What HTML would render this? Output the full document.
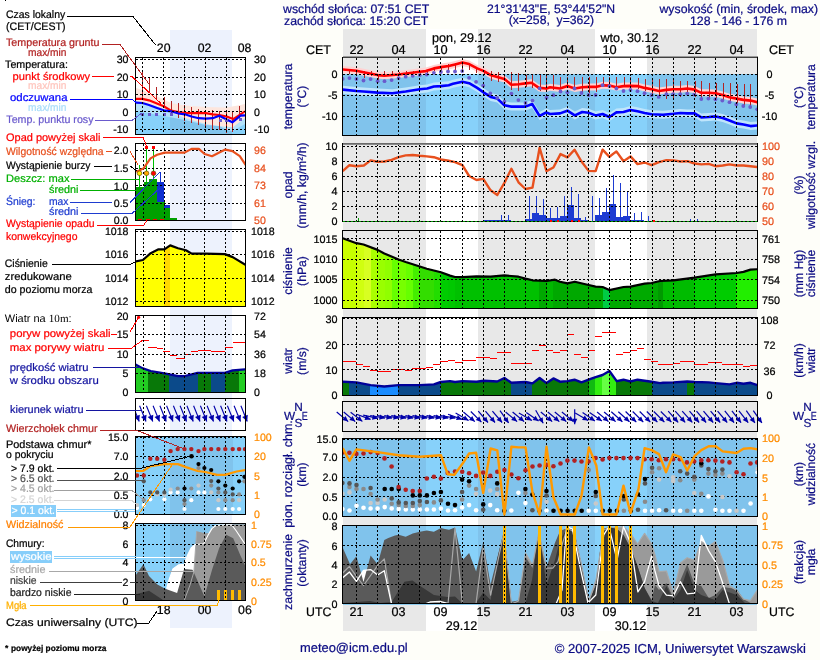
<!DOCTYPE html>
<html><head><meta charset="utf-8"><title>meteogram</title>
<style>html,body{margin:0;padding:0;background:#fefef9;overflow:hidden;}svg{display:block;will-change:transform;}text{font-family:'Liberation Sans', Arial, sans-serif;}</style>
</head><body>
<svg width="820" height="660" viewBox="0 0 820 660" shape-rendering="crispEdges" text-rendering="geometricPrecision">
<rect x="0" y="0" width="820" height="660" fill="#fefef9" />
<rect x="0" y="0" width="280" height="660" fill="#ffffff" />
<rect x="343" y="29" width="414" height="602" fill="#e8e8e8" />
<rect x="426" y="29" width="52" height="602" fill="#ffffff" />
<rect x="595" y="29" width="52" height="602" fill="#ffffff" />
<text x="283" y="12.5" font-size="12.3" fill="#0c0c84" stroke="#0c0c84" stroke-width="0.22" text-anchor="start" >wschód słońca: 07:51 CET</text>
<text x="284" y="25.3" font-size="12.3" fill="#0c0c84" stroke="#0c0c84" stroke-width="0.22" text-anchor="start" >zachód słońca: 15:20 CET</text>
<text x="551" y="12.5" font-size="12.2" fill="#0c0c84" stroke="#0c0c84" stroke-width="0.22" text-anchor="middle" >21°31'43"E, 53°44'52"N</text>
<text x="551.5" y="24.3" font-size="12.2" fill="#0c0c84" stroke="#0c0c84" stroke-width="0.22" text-anchor="middle" >(x=258,&#160; y=362)</text>
<text x="818" y="12.5" font-size="12.3" fill="#0c0c84" stroke="#0c0c84" stroke-width="0.22" text-anchor="end" >wysokość (min, środek, max)</text>
<text x="738.5" y="24.6" font-size="12.3" fill="#0c0c84" stroke="#0c0c84" stroke-width="0.22" text-anchor="middle" >128 - 146 - 176 m</text>
<text x="432" y="41.5" font-size="12.6" fill="#000" stroke="#000" stroke-width="0.22" text-anchor="start" >pon, 29.12</text>
<text x="600.5" y="41.5" font-size="12.6" fill="#000" stroke="#000" stroke-width="0.22" text-anchor="start" >wto, 30.12</text>
<text x="306" y="54.3" font-size="12.5" fill="#000" stroke="#000" stroke-width="0.22" text-anchor="start" >CET</text>
<text x="769" y="54.3" font-size="12.5" fill="#000" stroke="#000" stroke-width="0.22" text-anchor="start" >CET</text>
<text x="356.5" y="54.3" font-size="12.8" fill="#000" stroke="#000" stroke-width="0.22" text-anchor="middle" >22</text>
<text x="398.5" y="54.3" font-size="12.8" fill="#000" stroke="#000" stroke-width="0.22" text-anchor="middle" >04</text>
<text x="440.5" y="54.3" font-size="12.8" fill="#000" stroke="#000" stroke-width="0.22" text-anchor="middle" >10</text>
<text x="483.5" y="54.3" font-size="12.8" fill="#000" stroke="#000" stroke-width="0.22" text-anchor="middle" >16</text>
<text x="525.5" y="54.3" font-size="12.8" fill="#000" stroke="#000" stroke-width="0.22" text-anchor="middle" >22</text>
<text x="567.5" y="54.3" font-size="12.8" fill="#000" stroke="#000" stroke-width="0.22" text-anchor="middle" >04</text>
<text x="609.5" y="54.3" font-size="12.8" fill="#000" stroke="#000" stroke-width="0.22" text-anchor="middle" >10</text>
<text x="652.5" y="54.3" font-size="12.8" fill="#000" stroke="#000" stroke-width="0.22" text-anchor="middle" >16</text>
<text x="694.5" y="54.3" font-size="12.8" fill="#000" stroke="#000" stroke-width="0.22" text-anchor="middle" >22</text>
<text x="736.5" y="54.3" font-size="12.8" fill="#000" stroke="#000" stroke-width="0.22" text-anchor="middle" >04</text>
<text x="306" y="616.3" font-size="12.3" fill="#000" stroke="#000" stroke-width="0.22" text-anchor="start" >UTC</text>
<text x="769" y="616.3" font-size="12.3" fill="#000" stroke="#000" stroke-width="0.22" text-anchor="start" >UTC</text>
<text x="356.5" y="616.3" font-size="12.6" fill="#000" stroke="#000" stroke-width="0.22" text-anchor="middle" >21</text>
<text x="398.5" y="616.3" font-size="12.6" fill="#000" stroke="#000" stroke-width="0.22" text-anchor="middle" >03</text>
<text x="440.5" y="616.3" font-size="12.6" fill="#000" stroke="#000" stroke-width="0.22" text-anchor="middle" >09</text>
<text x="483.5" y="616.3" font-size="12.6" fill="#000" stroke="#000" stroke-width="0.22" text-anchor="middle" >15</text>
<text x="525.5" y="616.3" font-size="12.6" fill="#000" stroke="#000" stroke-width="0.22" text-anchor="middle" >21</text>
<text x="567.5" y="616.3" font-size="12.6" fill="#000" stroke="#000" stroke-width="0.22" text-anchor="middle" >03</text>
<text x="609.5" y="616.3" font-size="12.6" fill="#000" stroke="#000" stroke-width="0.22" text-anchor="middle" >09</text>
<text x="652.5" y="616.3" font-size="12.6" fill="#000" stroke="#000" stroke-width="0.22" text-anchor="middle" >15</text>
<text x="694.5" y="616.3" font-size="12.6" fill="#000" stroke="#000" stroke-width="0.22" text-anchor="middle" >21</text>
<text x="736.5" y="616.3" font-size="12.6" fill="#000" stroke="#000" stroke-width="0.22" text-anchor="middle" >03</text>
<text x="461.5" y="629.8" font-size="12.6" fill="#000" stroke="#000" stroke-width="0.22" text-anchor="middle" >29.12</text>
<text x="630.5" y="629.8" font-size="12.6" fill="#000" stroke="#000" stroke-width="0.22" text-anchor="middle" >30.12</text>
<text x="300" y="651.8" font-size="12.9" fill="#0c0c84" stroke="#0c0c84" stroke-width="0.22" text-anchor="start" >meteo@icm.edu.pl</text>
<text x="806" y="652.9" font-size="13.05" fill="#0c0c84" stroke="#0c0c84" stroke-width="0.22" text-anchor="end" >© 2007-2025 ICM, Uniwersytet Warszawski</text>
<clipPath id="cT"><rect x="343" y="58" width="414" height="77"/></clipPath>
<g clip-path="url(#cT)">
<rect x="343" y="74" width="414" height="61" fill="#80c3ec" />
<rect x="426" y="74" width="52" height="61" fill="#87d1fa" />
<rect x="595" y="74" width="52" height="61" fill="#87d1fa" />
<polygon points="342.7,85.6 356.4,87.0 363.5,87.5 377.6,88.6 392.3,89.2 405.7,87.5 419.8,85.2 427.2,84.5 433.9,82.5 440.9,82.1 448.7,81.2 453.0,79.8 462.4,77.8 469.1,79.2 477.2,83.9 483.9,88.6 490.6,92.9 497.3,94.6 504.4,101.3 511.4,102.6 525.5,102.6 532.2,100.0 539.6,112.0 546.3,108.4 550.0,110.0 560.0,109.4 567.4,106.7 574.8,111.4 582.2,108.0 588.6,108.7 595.6,111.4 602.6,110.0 609.4,113.0 616.4,108.4 623.5,108.0 630.5,106.0 637.5,107.3 644.6,109.0 651.6,110.3 663.0,110.7 673.4,109.8 680.5,109.0 687.2,109.4 694.6,109.4 701.3,113.4 708.7,113.0 715.6,112.4 722.7,114.0 729.5,116.5 736.6,119.4 743.5,120.5 750.5,122.1 757.6,121.4 757.6,129.4 750.5,130.1 743.5,128.5 736.6,127.4 729.5,124.5 722.7,122.0 715.6,120.4 708.7,121.0 701.3,121.4 694.6,117.4 687.2,117.4 680.5,117.0 673.4,117.8 663.0,118.7 651.6,118.3 644.6,117.0 637.5,115.3 630.5,114.0 623.5,116.0 616.4,116.4 609.4,121.0 602.6,118.0 595.6,119.4 588.6,116.7 582.2,116.0 574.8,119.4 567.4,114.7 560.0,117.4 550.0,118.0 546.3,116.4 539.6,120.0 532.2,108.0 525.5,110.6 511.4,110.6 504.4,109.3 497.3,102.6 490.6,100.9 483.9,96.6 477.2,91.9 469.1,87.2 462.4,85.8 453.0,87.8 448.7,89.2 440.9,90.1 433.9,90.5 427.2,92.5 419.8,93.2 405.7,95.5 392.3,97.2 377.6,96.6 363.5,95.5 356.4,95.0 342.7,93.6" fill="#bfe5fc" shape-rendering="auto"/>
<polygon points="342.7,66.0 356.4,67.3 363.5,68.7 377.6,71.6 384.3,72.3 398.6,71.0 419.8,68.3 425.9,67.6 433.9,64.9 440.9,63.6 448.7,62.5 455.0,60.9 462.4,58.9 469.1,60.6 477.2,64.9 483.9,67.6 490.6,71.6 497.3,73.6 504.4,75.6 511.4,81.3 518.8,80.7 525.5,79.9 531.5,79.3 538.9,84.4 546.5,85.0 550.0,83.7 560.0,85.0 567.4,82.6 574.8,85.0 582.2,83.7 588.6,83.4 595.6,83.4 602.6,81.7 609.4,82.1 616.4,83.7 623.5,82.6 630.5,82.4 637.5,82.6 644.6,84.4 651.6,85.7 659.0,87.5 666.4,86.4 673.4,85.7 680.5,85.7 687.2,85.0 694.6,86.1 701.3,89.3 708.7,89.3 715.6,89.7 722.7,91.5 729.5,93.8 736.6,95.1 743.5,96.4 750.5,97.1 757.6,98.7 757.6,105.7 750.5,104.1 743.5,103.4 736.6,102.1 729.5,100.8 722.7,98.5 715.6,96.7 708.7,96.3 701.3,96.3 694.6,93.1 687.2,92.0 680.5,92.7 673.4,92.7 666.4,93.4 659.0,94.5 651.6,92.7 644.6,91.4 637.5,89.6 630.5,89.4 623.5,89.6 616.4,90.7 609.4,89.1 602.6,88.7 595.6,90.4 588.6,90.4 582.2,90.7 574.8,92.0 567.4,89.6 560.0,92.0 550.0,90.7 546.5,92.0 538.9,91.4 531.5,86.3 525.5,86.9 518.8,87.7 511.4,88.3 504.4,82.6 497.3,80.6 490.6,78.6 483.9,74.6 477.2,71.9 469.1,67.6 462.4,65.9 455.0,67.9 448.7,69.5 440.9,70.6 433.9,71.9 425.9,74.6 419.8,75.3 398.6,78.0 384.3,79.3 377.6,78.6 363.5,75.7 356.4,74.3 342.7,73.0" fill="#ffd2d2" shape-rendering="auto"/>
<line x1="349.5" y1="70" x2="349.5" y2="74" stroke="#b22222" stroke-width="1" />
<line x1="356.5" y1="70.5" x2="356.5" y2="74" stroke="#b22222" stroke-width="1" />
<line x1="364.5" y1="71.4" x2="364.5" y2="77.5" stroke="#b22222" stroke-width="1" />
<line x1="371.5" y1="71.4" x2="371.5" y2="76.1" stroke="#b22222" stroke-width="1" />
<line x1="378.5" y1="74" x2="378.5" y2="79.5" stroke="#b22222" stroke-width="1" />
<line x1="384.5" y1="71.4" x2="384.5" y2="76.1" stroke="#b22222" stroke-width="1" />
<line x1="392.5" y1="71.4" x2="392.5" y2="76.1" stroke="#b22222" stroke-width="1" />
<line x1="399.5" y1="72" x2="399.5" y2="75" stroke="#b22222" stroke-width="1" />
<line x1="406.5" y1="71.4" x2="406.5" y2="74.8" stroke="#b22222" stroke-width="1" />
<line x1="413.5" y1="70.7" x2="413.5" y2="74.1" stroke="#b22222" stroke-width="1" />
<line x1="420.5" y1="70.7" x2="420.5" y2="74" stroke="#b22222" stroke-width="1" />
<line x1="427.5" y1="70" x2="427.5" y2="73" stroke="#b22222" stroke-width="1" />
<line x1="434.5" y1="68" x2="434.5" y2="71.4" stroke="#b22222" stroke-width="1" />
<line x1="441.5" y1="66.7" x2="441.5" y2="71.4" stroke="#b22222" stroke-width="1" />
<line x1="448.5" y1="64.4" x2="448.5" y2="71.8" stroke="#b22222" stroke-width="1" />
<line x1="455.5" y1="63" x2="455.5" y2="70.4" stroke="#b22222" stroke-width="1" />
<line x1="462.5" y1="63.3" x2="462.5" y2="69.8" stroke="#b22222" stroke-width="1" />
<line x1="469.5" y1="65" x2="469.5" y2="70.4" stroke="#b22222" stroke-width="1" />
<line x1="476.5" y1="68.4" x2="476.5" y2="73.1" stroke="#b22222" stroke-width="1" />
<line x1="484.5" y1="70.4" x2="484.5" y2="75.1" stroke="#b22222" stroke-width="1" />
<line x1="491.5" y1="71.1" x2="491.5" y2="81.2" stroke="#b22222" stroke-width="1" />
<line x1="498.5" y1="71.8" x2="498.5" y2="81.8" stroke="#b22222" stroke-width="1" />
<line x1="504.5" y1="73.8" x2="504.5" y2="81.2" stroke="#b22222" stroke-width="1" />
<line x1="511.5" y1="72.4" x2="511.5" y2="90.1" stroke="#b22222" stroke-width="1" />
<line x1="518.5" y1="73.1" x2="518.5" y2="90.5" stroke="#b22222" stroke-width="1" />
<line x1="526.5" y1="75.1" x2="526.5" y2="86.5" stroke="#b22222" stroke-width="1" />
<line x1="532.5" y1="74.5" x2="532.5" y2="87.9" stroke="#b22222" stroke-width="1" />
<line x1="540.5" y1="75.1" x2="540.5" y2="90.5" stroke="#b22222" stroke-width="1" />
<line x1="546.5" y1="75.1" x2="546.5" y2="90.5" stroke="#b22222" stroke-width="1" />
<line x1="553.5" y1="75.1" x2="553.5" y2="89.9" stroke="#b22222" stroke-width="1" />
<line x1="560.5" y1="76.5" x2="560.5" y2="88.5" stroke="#b22222" stroke-width="1" />
<line x1="567.5" y1="76.5" x2="567.5" y2="86.5" stroke="#b22222" stroke-width="1" />
<line x1="574.5" y1="76.5" x2="574.5" y2="90" stroke="#b22222" stroke-width="1" />
<line x1="582.5" y1="76.5" x2="582.5" y2="92" stroke="#b22222" stroke-width="1" />
<line x1="589.5" y1="77" x2="589.5" y2="92.5" stroke="#b22222" stroke-width="1" />
<line x1="596.5" y1="77" x2="596.5" y2="92" stroke="#b22222" stroke-width="1" />
<line x1="603.5" y1="77" x2="603.5" y2="86" stroke="#b22222" stroke-width="1" />
<line x1="609.5" y1="77" x2="609.5" y2="86" stroke="#b22222" stroke-width="1" />
<line x1="616.5" y1="77" x2="616.5" y2="87" stroke="#b22222" stroke-width="1" />
<line x1="624.5" y1="77" x2="624.5" y2="87" stroke="#b22222" stroke-width="1" />
<line x1="630.5" y1="77" x2="630.5" y2="87" stroke="#b22222" stroke-width="1" />
<line x1="638.5" y1="77.8" x2="638.5" y2="88.5" stroke="#b22222" stroke-width="1" />
<line x1="645.5" y1="78.5" x2="645.5" y2="91" stroke="#b22222" stroke-width="1" />
<line x1="652.5" y1="79" x2="652.5" y2="95" stroke="#b22222" stroke-width="1" />
<line x1="659.5" y1="79" x2="659.5" y2="98" stroke="#b22222" stroke-width="1" />
<line x1="666.5" y1="79.1" x2="666.5" y2="99.3" stroke="#b22222" stroke-width="1" />
<line x1="673.5" y1="79.8" x2="673.5" y2="98" stroke="#b22222" stroke-width="1" />
<line x1="680.5" y1="80.5" x2="680.5" y2="97.3" stroke="#b22222" stroke-width="1" />
<line x1="687.5" y1="80.5" x2="687.5" y2="94" stroke="#b22222" stroke-width="1" />
<line x1="695.5" y1="81.2" x2="695.5" y2="96.6" stroke="#b22222" stroke-width="1" />
<line x1="701.5" y1="81.2" x2="701.5" y2="99.3" stroke="#b22222" stroke-width="1" />
<line x1="709.5" y1="82.5" x2="709.5" y2="99.3" stroke="#b22222" stroke-width="1" />
<line x1="716.5" y1="83.2" x2="716.5" y2="99.3" stroke="#b22222" stroke-width="1" />
<line x1="723.5" y1="82.5" x2="723.5" y2="100.6" stroke="#b22222" stroke-width="1" />
<line x1="730.5" y1="83.2" x2="730.5" y2="102.6" stroke="#b22222" stroke-width="1" />
<line x1="737.5" y1="83.9" x2="737.5" y2="103.3" stroke="#b22222" stroke-width="1" />
<line x1="744.5" y1="84.2" x2="744.5" y2="106.6" stroke="#b22222" stroke-width="1" />
<line x1="750.5" y1="84.2" x2="750.5" y2="106.6" stroke="#b22222" stroke-width="1" />
<polyline points="342.7,69.5 356.4,70.8 363.5,72.2 377.6,75.1 384.3,75.8 398.6,74.5 419.8,71.8 425.9,71.1 433.9,68.4 440.9,67.1 448.7,66.0 455.0,64.4 462.4,62.4 469.1,64.1 477.2,68.4 483.9,71.1 490.6,75.1 497.3,77.1 504.4,79.1 511.4,84.8 518.8,84.2 525.5,83.4 531.5,82.8 538.9,87.9 546.5,88.5 550.0,87.2 560.0,88.5 567.4,86.1 574.8,88.5 582.2,87.2 588.6,86.9 595.6,86.9 602.6,85.2 609.4,85.6 616.4,87.2 623.5,86.1 630.5,85.9 637.5,86.1 644.6,87.9 651.6,89.2 659.0,91.0 666.4,89.9 673.4,89.2 680.5,89.2 687.2,88.5 694.6,89.6 701.3,92.8 708.7,92.8 715.6,93.2 722.7,95.0 729.5,97.3 736.6,98.6 743.5,99.9 750.5,100.6 757.6,102.2" fill="none" stroke="#ff0000" stroke-width="2.6" stroke-linejoin="round" shape-rendering="auto"/>
<polyline points="342.7,89.6 356.4,91.0 363.5,91.5 377.6,92.6 392.3,93.2 405.7,91.5 419.8,89.2 427.2,88.5 433.9,86.5 440.9,86.1 448.7,85.2 453.0,83.8 462.4,81.8 469.1,83.2 477.2,87.9 483.9,92.6 490.6,96.9 497.3,98.6 504.4,105.3 511.4,106.6 525.5,106.6 532.2,104.0 539.6,116.0 546.3,112.4 550.0,114.0 560.0,113.4 567.4,110.7 574.8,115.4 582.2,112.0 588.6,112.7 595.6,115.4 602.6,114.0 609.4,117.0 616.4,112.4 623.5,112.0 630.5,110.0 637.5,111.3 644.6,113.0 651.6,114.3 663.0,114.7 673.4,113.8 680.5,113.0 687.2,113.4 694.6,113.4 701.3,117.4 708.7,117.0 715.6,116.4 722.7,118.0 729.5,120.5 736.6,123.4 743.5,124.5 750.5,126.1 757.6,125.4" fill="none" stroke="#0000ff" stroke-width="2.6" stroke-linejoin="round" shape-rendering="auto"/>
<circle cx="342.7" cy="78.9" r="1.9" fill="#6a5acd" shape-rendering="auto"/>
<circle cx="349.4" cy="78.1" r="1.9" fill="#6a5acd" shape-rendering="auto"/>
<circle cx="356.4" cy="78.9" r="1.9" fill="#6a5acd" shape-rendering="auto"/>
<circle cx="363.5" cy="80.5" r="1.9" fill="#6a5acd" shape-rendering="auto"/>
<circle cx="370.6" cy="79.1" r="1.9" fill="#6a5acd" shape-rendering="auto"/>
<circle cx="377.6" cy="81.2" r="1.9" fill="#6a5acd" shape-rendering="auto"/>
<circle cx="384.5" cy="81.2" r="1.9" fill="#6a5acd" shape-rendering="auto"/>
<circle cx="391.6" cy="80.1" r="1.9" fill="#6a5acd" shape-rendering="auto"/>
<circle cx="398.6" cy="78.1" r="1.9" fill="#6a5acd" shape-rendering="auto"/>
<circle cx="405.7" cy="76.7" r="1.9" fill="#6a5acd" shape-rendering="auto"/>
<circle cx="412.7" cy="75.8" r="1.9" fill="#6a5acd" shape-rendering="auto"/>
<circle cx="419.8" cy="75.1" r="1.9" fill="#6a5acd" shape-rendering="auto"/>
<circle cx="426.8" cy="74.5" r="1.9" fill="#6a5acd" shape-rendering="auto"/>
<circle cx="433.9" cy="72.8" r="1.9" fill="#6a5acd" shape-rendering="auto"/>
<circle cx="440.9" cy="72" r="1.9" fill="#6a5acd" shape-rendering="auto"/>
<circle cx="448" cy="71.5" r="1.9" fill="#6a5acd" shape-rendering="auto"/>
<circle cx="455" cy="71.5" r="1.9" fill="#6a5acd" shape-rendering="auto"/>
<circle cx="462.2" cy="71.1" r="1.9" fill="#6a5acd" shape-rendering="auto"/>
<circle cx="469.1" cy="77.8" r="1.9" fill="#6a5acd" shape-rendering="auto"/>
<circle cx="476.1" cy="81.8" r="1.9" fill="#6a5acd" shape-rendering="auto"/>
<circle cx="483.2" cy="85.6" r="1.9" fill="#6a5acd" shape-rendering="auto"/>
<circle cx="490.3" cy="93.5" r="1.9" fill="#6a5acd" shape-rendering="auto"/>
<circle cx="497.3" cy="97.9" r="1.9" fill="#6a5acd" shape-rendering="auto"/>
<circle cx="504.4" cy="101.7" r="1.9" fill="#6a5acd" shape-rendering="auto"/>
<circle cx="511.4" cy="93.6" r="1.9" fill="#6a5acd" shape-rendering="auto"/>
<circle cx="518.4" cy="100.1" r="1.9" fill="#6a5acd" shape-rendering="auto"/>
<circle cx="525.5" cy="103" r="1.9" fill="#6a5acd" shape-rendering="auto"/>
<circle cx="532.5" cy="100.6" r="1.9" fill="#6a5acd" shape-rendering="auto"/>
<circle cx="539.6" cy="88.3" r="1.9" fill="#6a5acd" shape-rendering="auto"/>
<circle cx="546.5" cy="97.7" r="1.9" fill="#6a5acd" shape-rendering="auto"/>
<circle cx="553.4" cy="95.2" r="1.9" fill="#6a5acd" shape-rendering="auto"/>
<circle cx="560.5" cy="91.5" r="1.9" fill="#6a5acd" shape-rendering="auto"/>
<circle cx="567.4" cy="92.3" r="1.9" fill="#6a5acd" shape-rendering="auto"/>
<circle cx="574.5" cy="88.5" r="1.9" fill="#6a5acd" shape-rendering="auto"/>
<circle cx="581.5" cy="93" r="1.9" fill="#6a5acd" shape-rendering="auto"/>
<circle cx="588.6" cy="95" r="1.9" fill="#6a5acd" shape-rendering="auto"/>
<circle cx="595.6" cy="95" r="1.9" fill="#6a5acd" shape-rendering="auto"/>
<circle cx="602.6" cy="85.2" r="1.9" fill="#6a5acd" shape-rendering="auto"/>
<circle cx="609.4" cy="86.1" r="1.9" fill="#6a5acd" shape-rendering="auto"/>
<circle cx="616.4" cy="88.5" r="1.9" fill="#6a5acd" shape-rendering="auto"/>
<circle cx="623.5" cy="91" r="1.9" fill="#6a5acd" shape-rendering="auto"/>
<circle cx="630.5" cy="89.9" r="1.9" fill="#6a5acd" shape-rendering="auto"/>
<circle cx="637.5" cy="91.2" r="1.9" fill="#6a5acd" shape-rendering="auto"/>
<circle cx="644.6" cy="93.2" r="1.9" fill="#6a5acd" shape-rendering="auto"/>
<circle cx="651.6" cy="95.2" r="1.9" fill="#6a5acd" shape-rendering="auto"/>
<circle cx="658.7" cy="96.9" r="1.9" fill="#6a5acd" shape-rendering="auto"/>
<circle cx="666.4" cy="94.2" r="1.9" fill="#6a5acd" shape-rendering="auto"/>
<circle cx="673.1" cy="94.2" r="1.9" fill="#6a5acd" shape-rendering="auto"/>
<circle cx="680.2" cy="94.2" r="1.9" fill="#6a5acd" shape-rendering="auto"/>
<circle cx="687.2" cy="93.6" r="1.9" fill="#6a5acd" shape-rendering="auto"/>
<circle cx="694.2" cy="94.6" r="1.9" fill="#6a5acd" shape-rendering="auto"/>
<circle cx="701.3" cy="99" r="1.9" fill="#6a5acd" shape-rendering="auto"/>
<circle cx="708.4" cy="98.6" r="1.9" fill="#6a5acd" shape-rendering="auto"/>
<circle cx="715.4" cy="99.3" r="1.9" fill="#6a5acd" shape-rendering="auto"/>
<circle cx="722.3" cy="100.6" r="1.9" fill="#6a5acd" shape-rendering="auto"/>
<circle cx="729.5" cy="102.2" r="1.9" fill="#6a5acd" shape-rendering="auto"/>
<circle cx="736.3" cy="104.4" r="1.9" fill="#6a5acd" shape-rendering="auto"/>
<circle cx="743.3" cy="106" r="1.9" fill="#6a5acd" shape-rendering="auto"/>
<circle cx="750.2" cy="107" r="1.9" fill="#6a5acd" shape-rendering="auto"/>
<circle cx="757.2" cy="109.3" r="1.9" fill="#6a5acd" shape-rendering="auto"/>
<line x1="343" y1="74.5" x2="757" y2="74.5" stroke="#000" stroke-width="1" stroke-dasharray="2 2"/>
<line x1="343" y1="95.5" x2="757" y2="95.5" stroke="#000" stroke-width="1" stroke-dasharray="2 2"/>
<line x1="343" y1="116.5" x2="757" y2="116.5" stroke="#000" stroke-width="1" stroke-dasharray="2 2"/>
<line x1="356.5" y1="58" x2="356.5" y2="135" stroke="#000" stroke-width="1" stroke-dasharray="2 2"/>
<line x1="377.5" y1="58" x2="377.5" y2="135" stroke="#000" stroke-width="1" stroke-dasharray="2 2"/>
<line x1="398.5" y1="58" x2="398.5" y2="135" stroke="#000" stroke-width="1" stroke-dasharray="2 2"/>
<line x1="419.5" y1="58" x2="419.5" y2="135" stroke="#000" stroke-width="1" stroke-dasharray="2 2"/>
<line x1="440.5" y1="58" x2="440.5" y2="135" stroke="#000" stroke-width="1" stroke-dasharray="2 2"/>
<line x1="462.5" y1="58" x2="462.5" y2="135" stroke="#000" stroke-width="1" stroke-dasharray="2 2"/>
<line x1="483.5" y1="58" x2="483.5" y2="135" stroke="#000" stroke-width="1" stroke-dasharray="2 2"/>
<line x1="504.5" y1="58" x2="504.5" y2="135" stroke="#000" stroke-width="1" stroke-dasharray="2 2"/>
<line x1="525.5" y1="58" x2="525.5" y2="135" stroke="#000" stroke-width="1" stroke-dasharray="2 2"/>
<line x1="546.5" y1="58" x2="546.5" y2="135" stroke="#000" stroke-width="1" stroke-dasharray="2 2"/>
<line x1="567.5" y1="58" x2="567.5" y2="135" stroke="#000" stroke-width="1" stroke-dasharray="2 2"/>
<line x1="588.5" y1="58" x2="588.5" y2="135" stroke="#000" stroke-width="1" stroke-dasharray="2 2"/>
<line x1="609.5" y1="58" x2="609.5" y2="135" stroke="#000" stroke-width="1" stroke-dasharray="2 2"/>
<line x1="630.5" y1="58" x2="630.5" y2="135" stroke="#000" stroke-width="1" stroke-dasharray="2 2"/>
<line x1="652.5" y1="58" x2="652.5" y2="135" stroke="#000" stroke-width="1" stroke-dasharray="2 2"/>
<line x1="673.5" y1="58" x2="673.5" y2="135" stroke="#000" stroke-width="1" stroke-dasharray="2 2"/>
<line x1="694.5" y1="58" x2="694.5" y2="135" stroke="#000" stroke-width="1" stroke-dasharray="2 2"/>
<line x1="715.5" y1="58" x2="715.5" y2="135" stroke="#000" stroke-width="1" stroke-dasharray="2 2"/>
<line x1="736.5" y1="58" x2="736.5" y2="135" stroke="#000" stroke-width="1" stroke-dasharray="2 2"/>
</g>
<rect x="342.5" y="57.5" width="415" height="78" fill="none" stroke="#000" stroke-width="1"/>
<rect x="343" y="56" width="415" height="1" fill="#9a9a9a" />
<rect x="343" y="57" width="414" height="1" fill="#404040" />
<text x="337.5" y="78" font-size="10.8" fill="#000" stroke="#000" stroke-width="0.22" text-anchor="end" >0</text>
<text x="769.5" y="78" font-size="10.8" fill="#000" stroke="#000" stroke-width="0.22" text-anchor="middle" >0</text>
<text x="337.5" y="99" font-size="10.8" fill="#000" stroke="#000" stroke-width="0.22" text-anchor="end" >-5</text>
<text x="769.5" y="99" font-size="10.8" fill="#000" stroke="#000" stroke-width="0.22" text-anchor="middle" >-5</text>
<text x="337.5" y="120" font-size="10.8" fill="#000" stroke="#000" stroke-width="0.22" text-anchor="end" >-10</text>
<text x="769.5" y="120" font-size="10.8" fill="#000" stroke="#000" stroke-width="0.22" text-anchor="middle" >-10</text>
<text transform="translate(292.2,96.5) rotate(-90)" font-size="12.2" fill="#0c0c84" stroke="#0c0c84" stroke-width="0.22" text-anchor="middle">temperatura</text>
<text transform="translate(306,96.5) rotate(-90)" font-size="12.2" fill="#0c0c84" stroke="#0c0c84" stroke-width="0.22" text-anchor="middle">(°C)</text>
<text transform="translate(803.2,97) rotate(-90)" font-size="12.2" fill="#0c0c84" stroke="#0c0c84" stroke-width="0.22" text-anchor="middle">(°C)</text>
<text transform="translate(815,97) rotate(-90)" font-size="12.2" fill="#0c0c84" stroke="#0c0c84" stroke-width="0.22" text-anchor="middle">temperatura</text>
<clipPath id="cP"><rect x="343" y="144" width="414" height="77"/></clipPath>
<g clip-path="url(#cP)">
<rect x="483" y="220" width="7" height="1" fill="#1d3bd2" />
<rect x="490" y="220" width="7" height="1" fill="#1d3bd2" />
<rect x="497" y="220" width="14" height="1" fill="#1d3bd2" />
<rect x="525" y="219" width="7" height="2" fill="#1d3bd2" />
<rect x="532" y="213" width="7" height="8" fill="#1d3bd2" />
<rect x="539" y="215" width="7" height="6" fill="#1d3bd2" />
<rect x="546" y="218" width="14" height="3" fill="#1d3bd2" />
<rect x="560" y="216" width="7" height="5" fill="#1d3bd2" />
<rect x="567" y="205" width="7" height="16" fill="#1d3bd2" />
<rect x="574" y="218" width="7" height="3" fill="#1d3bd2" />
<rect x="581" y="220" width="7" height="1" fill="#1d3bd2" />
<rect x="595" y="215" width="7" height="6" fill="#1d3bd2" />
<rect x="602" y="212" width="7" height="9" fill="#1d3bd2" />
<rect x="609" y="204" width="7" height="17" fill="#1d3bd2" />
<rect x="616" y="217" width="7" height="4" fill="#1d3bd2" />
<rect x="623" y="216" width="7" height="5" fill="#1d3bd2" />
<rect x="630" y="220" width="14" height="1" fill="#1d3bd2" />
<line x1="501.5" y1="215" x2="501.5" y2="221" stroke="#1d3bd2" stroke-width="1" />
<line x1="508.5" y1="215" x2="508.5" y2="221" stroke="#1d3bd2" stroke-width="1" />
<line x1="529.5" y1="196.3" x2="529.5" y2="221" stroke="#1d3bd2" stroke-width="1" />
<line x1="536.5" y1="196.3" x2="536.5" y2="221" stroke="#1d3bd2" stroke-width="1" />
<line x1="543.5" y1="199" x2="543.5" y2="221" stroke="#1d3bd2" stroke-width="1" />
<line x1="550.5" y1="208.4" x2="550.5" y2="221" stroke="#1d3bd2" stroke-width="1" />
<line x1="557.5" y1="207" x2="557.5" y2="221" stroke="#1d3bd2" stroke-width="1" />
<line x1="564.5" y1="196.3" x2="564.5" y2="221" stroke="#1d3bd2" stroke-width="1" />
<line x1="571.5" y1="187.2" x2="571.5" y2="221" stroke="#1d3bd2" stroke-width="1" />
<line x1="578.5" y1="194.3" x2="578.5" y2="221" stroke="#1d3bd2" stroke-width="1" />
<line x1="585.5" y1="217" x2="585.5" y2="221" stroke="#1d3bd2" stroke-width="1" />
<line x1="592.5" y1="196.3" x2="592.5" y2="221" stroke="#1d3bd2" stroke-width="1" />
<line x1="599.5" y1="198.4" x2="599.5" y2="221" stroke="#1d3bd2" stroke-width="1" />
<line x1="606.5" y1="188.3" x2="606.5" y2="221" stroke="#1d3bd2" stroke-width="1" />
<line x1="613.5" y1="174.6" x2="613.5" y2="221" stroke="#1d3bd2" stroke-width="1" />
<line x1="620.5" y1="183.2" x2="620.5" y2="221" stroke="#1d3bd2" stroke-width="1" />
<line x1="627.5" y1="191.6" x2="627.5" y2="221" stroke="#1d3bd2" stroke-width="1" />
<line x1="634.5" y1="213.1" x2="634.5" y2="221" stroke="#1d3bd2" stroke-width="1" />
<line x1="641.5" y1="212.4" x2="641.5" y2="221" stroke="#1d3bd2" stroke-width="1" />
<line x1="648.5" y1="216.2" x2="648.5" y2="221" stroke="#1d3bd2" stroke-width="1" />
<line x1="690.5" y1="219" x2="690.5" y2="221" stroke="#1d3bd2" stroke-width="1" />
<line x1="697.5" y1="219" x2="697.5" y2="221" stroke="#1d3bd2" stroke-width="1" />
<line x1="358.5" y1="218" x2="358.5" y2="221" stroke="#00a000" stroke-width="1" />
<polyline points="342.7,171.1 349.4,165.2 356.4,166.2 363.9,165.5 370.6,160.4 377.6,161.7 384.3,161.5 391.6,159.9 398.6,157.2 405.7,155.4 412.7,155.0 419.8,155.8 426.8,156.4 433.9,157.2 440.9,159.5 448.7,160.8 455.0,162.1 462.4,165.2 469.1,176.0 476.5,180.0 483.2,178.9 490.6,190.3 497.3,195.0 504.4,182.9 511.4,168.8 518.5,182.3 525.5,189.0 532.5,187.6 539.6,147.8 546.5,171.1 553.4,167.5 560.5,154.1 567.4,157.4 574.5,149.7 581.5,161.5 588.6,170.9 595.6,171.1 602.6,149.7 609.4,156.8 616.4,151.4 623.5,161.2 630.5,156.4 637.5,164.1 644.6,162.5 651.6,165.2 659.0,162.1 666.4,160.1 673.4,160.4 680.5,161.5 687.2,161.2 694.6,163.5 701.3,164.4 708.7,163.9 715.6,166.2 722.7,165.5 729.5,164.4 736.6,165.5 743.5,165.5 750.5,166.2 757.6,167.1" fill="none" stroke="#e8501e" stroke-width="2.4" stroke-linejoin="round" shape-rendering="auto"/>
<line x1="343" y1="146.5" x2="757" y2="146.5" stroke="#000" stroke-width="1" stroke-dasharray="2 2"/>
<line x1="343" y1="161.5" x2="757" y2="161.5" stroke="#000" stroke-width="1" stroke-dasharray="2 2"/>
<line x1="343" y1="176.5" x2="757" y2="176.5" stroke="#000" stroke-width="1" stroke-dasharray="2 2"/>
<line x1="343" y1="191.5" x2="757" y2="191.5" stroke="#000" stroke-width="1" stroke-dasharray="2 2"/>
<line x1="343" y1="206.5" x2="757" y2="206.5" stroke="#000" stroke-width="1" stroke-dasharray="2 2"/>
<line x1="356.5" y1="144" x2="356.5" y2="221" stroke="#000" stroke-width="1" stroke-dasharray="2 2"/>
<line x1="377.5" y1="144" x2="377.5" y2="221" stroke="#000" stroke-width="1" stroke-dasharray="2 2"/>
<line x1="398.5" y1="144" x2="398.5" y2="221" stroke="#000" stroke-width="1" stroke-dasharray="2 2"/>
<line x1="419.5" y1="144" x2="419.5" y2="221" stroke="#000" stroke-width="1" stroke-dasharray="2 2"/>
<line x1="440.5" y1="144" x2="440.5" y2="221" stroke="#000" stroke-width="1" stroke-dasharray="2 2"/>
<line x1="462.5" y1="144" x2="462.5" y2="221" stroke="#000" stroke-width="1" stroke-dasharray="2 2"/>
<line x1="483.5" y1="144" x2="483.5" y2="221" stroke="#000" stroke-width="1" stroke-dasharray="2 2"/>
<line x1="504.5" y1="144" x2="504.5" y2="221" stroke="#000" stroke-width="1" stroke-dasharray="2 2"/>
<line x1="525.5" y1="144" x2="525.5" y2="221" stroke="#000" stroke-width="1" stroke-dasharray="2 2"/>
<line x1="546.5" y1="144" x2="546.5" y2="221" stroke="#000" stroke-width="1" stroke-dasharray="2 2"/>
<line x1="567.5" y1="144" x2="567.5" y2="221" stroke="#000" stroke-width="1" stroke-dasharray="2 2"/>
<line x1="588.5" y1="144" x2="588.5" y2="221" stroke="#000" stroke-width="1" stroke-dasharray="2 2"/>
<line x1="609.5" y1="144" x2="609.5" y2="221" stroke="#000" stroke-width="1" stroke-dasharray="2 2"/>
<line x1="630.5" y1="144" x2="630.5" y2="221" stroke="#000" stroke-width="1" stroke-dasharray="2 2"/>
<line x1="652.5" y1="144" x2="652.5" y2="221" stroke="#000" stroke-width="1" stroke-dasharray="2 2"/>
<line x1="673.5" y1="144" x2="673.5" y2="221" stroke="#000" stroke-width="1" stroke-dasharray="2 2"/>
<line x1="694.5" y1="144" x2="694.5" y2="221" stroke="#000" stroke-width="1" stroke-dasharray="2 2"/>
<line x1="715.5" y1="144" x2="715.5" y2="221" stroke="#000" stroke-width="1" stroke-dasharray="2 2"/>
<line x1="736.5" y1="144" x2="736.5" y2="221" stroke="#000" stroke-width="1" stroke-dasharray="2 2"/>
</g>
<rect x="342.5" y="143.5" width="415" height="78" fill="none" stroke="#000" stroke-width="1"/>
<rect x="343" y="143" width="414" height="1" fill="#6a6a6a" />
<rect x="343" y="144" width="414" height="1" fill="#8a8a8a" />
<line x1="343" y1="221.5" x2="757" y2="221.5" stroke="#00a000" stroke-width="1" stroke-dasharray="2 2"/>
<rect x="550" y="220" width="2" height="2" fill="#ff0000" />
<rect x="557" y="220" width="2" height="2" fill="#ff0000" />
<rect x="571" y="220" width="2" height="2" fill="#ff0000" />
<rect x="578" y="220" width="2" height="2" fill="#ff0000" />
<rect x="653" y="220" width="2" height="2" fill="#ff0000" />
<text x="337.5" y="150" font-size="10.8" fill="#000" stroke="#000" stroke-width="0.22" text-anchor="end" >10</text>
<text x="337.5" y="165" font-size="10.8" fill="#000" stroke="#000" stroke-width="0.22" text-anchor="end" >8</text>
<text x="337.5" y="180" font-size="10.8" fill="#000" stroke="#000" stroke-width="0.22" text-anchor="end" >6</text>
<text x="337.5" y="195" font-size="10.8" fill="#000" stroke="#000" stroke-width="0.22" text-anchor="end" >4</text>
<text x="337.5" y="210" font-size="10.8" fill="#000" stroke="#000" stroke-width="0.22" text-anchor="end" >2</text>
<text x="337.5" y="225" font-size="10.8" fill="#000" stroke="#000" stroke-width="0.22" text-anchor="end" >0</text>
<text x="762" y="150" font-size="10.8" fill="#e8501e" stroke="#e8501e" stroke-width="0.22" text-anchor="start" >100</text>
<text x="762" y="165" font-size="10.8" fill="#e8501e" stroke="#e8501e" stroke-width="0.22" text-anchor="start" >90</text>
<text x="762" y="180" font-size="10.8" fill="#e8501e" stroke="#e8501e" stroke-width="0.22" text-anchor="start" >80</text>
<text x="762" y="195" font-size="10.8" fill="#e8501e" stroke="#e8501e" stroke-width="0.22" text-anchor="start" >70</text>
<text x="762" y="210" font-size="10.8" fill="#e8501e" stroke="#e8501e" stroke-width="0.22" text-anchor="start" >60</text>
<text x="762" y="225" font-size="10.8" fill="#e8501e" stroke="#e8501e" stroke-width="0.22" text-anchor="start" >50</text>
<text transform="translate(292.2,185) rotate(-90)" font-size="12.2" fill="#0c0c84" stroke="#0c0c84" stroke-width="0.22" text-anchor="middle">opad</text>
<text transform="translate(306,185.5) rotate(-90)" font-size="12.2" fill="#0c0c84" stroke="#0c0c84" stroke-width="0.22" text-anchor="middle">(mm/h, kg/m²/h)</text>
<text transform="translate(803.2,185) rotate(-90)" font-size="12.2" fill="#0c0c84" stroke="#0c0c84" stroke-width="0.22" text-anchor="middle">(%)</text>
<text transform="translate(815,185) rotate(-90)" font-size="12.2" fill="#0c0c84" stroke="#0c0c84" stroke-width="0.22" text-anchor="middle">wilgotność wzgl.</text>
<clipPath id="cR"><rect x="343" y="231" width="414" height="77"/></clipPath>
<g clip-path="url(#cR)">
<rect x="343" y="231" width="7" height="77" fill="#ccff00" />
<rect x="350" y="231" width="7" height="77" fill="#c6ff00" />
<rect x="357" y="231" width="7" height="77" fill="#d0ff10" />
<rect x="364" y="231" width="7" height="77" fill="#d8ff22" />
<rect x="371" y="231" width="7" height="77" fill="#aaff00" />
<rect x="378" y="231" width="7" height="77" fill="#99ff00" />
<rect x="385" y="231" width="7" height="77" fill="#90ff00" />
<rect x="392" y="231" width="7" height="77" fill="#66ff00" />
<rect x="399" y="231" width="7" height="77" fill="#77ff00" />
<rect x="406" y="231" width="7" height="77" fill="#66ff00" />
<rect x="413" y="231" width="7" height="77" fill="#44ee00" />
<rect x="420" y="231" width="7" height="77" fill="#33dd00" />
<rect x="427" y="231" width="7" height="77" fill="#33dd00" />
<rect x="434" y="231" width="7" height="77" fill="#22dd00" />
<rect x="441" y="231" width="7" height="77" fill="#00cc00" />
<rect x="448" y="231" width="7" height="77" fill="#00c800" />
<rect x="455" y="231" width="84" height="77" fill="#00c000" />
<rect x="539" y="231" width="8" height="77" fill="#00a800" />
<rect x="547" y="231" width="6" height="77" fill="#00b800" />
<rect x="553" y="231" width="50" height="77" fill="#00a800" />
<rect x="603" y="231" width="7" height="77" fill="#00cc44" />
<rect x="610" y="231" width="48" height="77" fill="#00aa00" />
<rect x="658" y="231" width="5" height="77" fill="#009900" />
<rect x="663" y="231" width="31" height="77" fill="#00bb00" />
<rect x="694" y="231" width="42" height="77" fill="#00cc00" />
<rect x="736" y="231" width="21" height="77" fill="#22ee00" />
<clipPath id="cRtop"><polygon points="342.0,230.0 342.7,238.3 356.4,243.2 363.5,244.5 377.6,249.9 384.3,253.5 398.6,259.5 405.7,262.0 419.8,266.5 426.8,268.7 440.9,272.3 450.0,275.6 455.0,277.0 462.4,277.2 476.5,276.3 490.6,276.7 504.4,275.4 518.5,276.7 525.5,278.6 532.5,280.3 539.6,280.7 546.5,281.0 555.0,279.7 560.0,281.7 567.4,283.4 574.8,281.7 588.6,285.0 595.6,286.6 602.6,287.0 609.4,290.1 623.5,287.0 630.5,286.6 644.6,283.7 651.6,283.0 660.0,281.0 673.4,280.3 694.6,277.6 715.6,274.3 736.6,273.0 743.5,271.9 750.5,269.6 757.6,269.2 758.0,230.0"/></clipPath>
<g clip-path="url(#cRtop)">
<rect x="343" y="230" width="414" height="80" fill="#e8e8e8" />
<rect x="426" y="230" width="52" height="80" fill="#ffffff" />
<rect x="595" y="230" width="52" height="80" fill="#ffffff" />
</g>
<polyline points="342.7,238.3 356.4,243.2 363.5,244.5 377.6,249.9 384.3,253.5 398.6,259.5 405.7,262.0 419.8,266.5 426.8,268.7 440.9,272.3 450.0,275.6 455.0,277.0 462.4,277.2 476.5,276.3 490.6,276.7 504.4,275.4 518.5,276.7 525.5,278.6 532.5,280.3 539.6,280.7 546.5,281.0 555.0,279.7 560.0,281.7 567.4,283.4 574.8,281.7 588.6,285.0 595.6,286.6 602.6,287.0 609.4,290.1 623.5,287.0 630.5,286.6 644.6,283.7 651.6,283.0 660.0,281.0 673.4,280.3 694.6,277.6 715.6,274.3 736.6,273.0 743.5,271.9 750.5,269.6 757.6,269.2" fill="none" stroke="#000" stroke-width="2.2" stroke-linejoin="round" shape-rendering="auto"/>
<line x1="343" y1="238.5" x2="757" y2="238.5" stroke="#000" stroke-width="1" stroke-dasharray="2 2"/>
<line x1="343" y1="259.5" x2="757" y2="259.5" stroke="#000" stroke-width="1" stroke-dasharray="2 2"/>
<line x1="343" y1="279.5" x2="757" y2="279.5" stroke="#000" stroke-width="1" stroke-dasharray="2 2"/>
<line x1="343" y1="300.5" x2="757" y2="300.5" stroke="#000" stroke-width="1" stroke-dasharray="2 2"/>
<line x1="356.5" y1="231" x2="356.5" y2="308" stroke="#000" stroke-width="1" stroke-dasharray="2 2"/>
<line x1="377.5" y1="231" x2="377.5" y2="308" stroke="#000" stroke-width="1" stroke-dasharray="2 2"/>
<line x1="398.5" y1="231" x2="398.5" y2="308" stroke="#000" stroke-width="1" stroke-dasharray="2 2"/>
<line x1="419.5" y1="231" x2="419.5" y2="308" stroke="#000" stroke-width="1" stroke-dasharray="2 2"/>
<line x1="440.5" y1="231" x2="440.5" y2="308" stroke="#000" stroke-width="1" stroke-dasharray="2 2"/>
<line x1="462.5" y1="231" x2="462.5" y2="308" stroke="#000" stroke-width="1" stroke-dasharray="2 2"/>
<line x1="483.5" y1="231" x2="483.5" y2="308" stroke="#000" stroke-width="1" stroke-dasharray="2 2"/>
<line x1="504.5" y1="231" x2="504.5" y2="308" stroke="#000" stroke-width="1" stroke-dasharray="2 2"/>
<line x1="525.5" y1="231" x2="525.5" y2="308" stroke="#000" stroke-width="1" stroke-dasharray="2 2"/>
<line x1="546.5" y1="231" x2="546.5" y2="308" stroke="#000" stroke-width="1" stroke-dasharray="2 2"/>
<line x1="567.5" y1="231" x2="567.5" y2="308" stroke="#000" stroke-width="1" stroke-dasharray="2 2"/>
<line x1="588.5" y1="231" x2="588.5" y2="308" stroke="#000" stroke-width="1" stroke-dasharray="2 2"/>
<line x1="609.5" y1="231" x2="609.5" y2="308" stroke="#000" stroke-width="1" stroke-dasharray="2 2"/>
<line x1="630.5" y1="231" x2="630.5" y2="308" stroke="#000" stroke-width="1" stroke-dasharray="2 2"/>
<line x1="652.5" y1="231" x2="652.5" y2="308" stroke="#000" stroke-width="1" stroke-dasharray="2 2"/>
<line x1="673.5" y1="231" x2="673.5" y2="308" stroke="#000" stroke-width="1" stroke-dasharray="2 2"/>
<line x1="694.5" y1="231" x2="694.5" y2="308" stroke="#000" stroke-width="1" stroke-dasharray="2 2"/>
<line x1="715.5" y1="231" x2="715.5" y2="308" stroke="#000" stroke-width="1" stroke-dasharray="2 2"/>
<line x1="736.5" y1="231" x2="736.5" y2="308" stroke="#000" stroke-width="1" stroke-dasharray="2 2"/>
</g>
<rect x="342.5" y="230.5" width="415" height="78" fill="none" stroke="#000" stroke-width="1"/>
<text x="337.5" y="242.5" font-size="10.8" fill="#000" stroke="#000" stroke-width="0.22" text-anchor="end" >1015</text>
<text x="337.5" y="263.3" font-size="10.8" fill="#000" stroke="#000" stroke-width="0.22" text-anchor="end" >1010</text>
<text x="337.5" y="283.4" font-size="10.8" fill="#000" stroke="#000" stroke-width="0.22" text-anchor="end" >1005</text>
<text x="337.5" y="304.2" font-size="10.8" fill="#000" stroke="#000" stroke-width="0.22" text-anchor="end" >1000</text>
<text x="762" y="242.6" font-size="10.8" fill="#000" stroke="#000" stroke-width="0.22" text-anchor="start" >761</text>
<text x="762" y="263" font-size="10.8" fill="#000" stroke="#000" stroke-width="0.22" text-anchor="start" >758</text>
<text x="762" y="284" font-size="10.8" fill="#000" stroke="#000" stroke-width="0.22" text-anchor="start" >754</text>
<text x="762" y="304" font-size="10.8" fill="#000" stroke="#000" stroke-width="0.22" text-anchor="start" >750</text>
<text transform="translate(292.2,271) rotate(-90)" font-size="12.2" fill="#0c0c84" stroke="#0c0c84" stroke-width="0.22" text-anchor="middle">ciśnienie</text>
<text transform="translate(306,271) rotate(-90)" font-size="12.2" fill="#0c0c84" stroke="#0c0c84" stroke-width="0.22" text-anchor="middle">(hPa)</text>
<text transform="translate(803.2,273.5) rotate(-90)" font-size="12.2" fill="#0c0c84" stroke="#0c0c84" stroke-width="0.22" text-anchor="middle">(mm Hg)</text>
<text transform="translate(815,273.5) rotate(-90)" font-size="12.2" fill="#0c0c84" stroke="#0c0c84" stroke-width="0.22" text-anchor="middle">ciśnienie</text>
<clipPath id="cV"><rect x="343" y="318" width="414" height="77"/></clipPath>
<g clip-path="url(#cV)">
<clipPath id="cVb"><polygon points="342.7,381.8 356.4,382.4 370.6,385.1 384.3,386.5 398.6,385.1 419.8,385.1 433.9,384.4 440.9,382.0 450.0,381.1 455.0,382.0 462.4,381.1 476.5,381.8 483.9,380.7 497.3,381.5 504.4,378.0 511.4,382.8 525.5,382.0 532.5,383.4 539.6,378.0 546.5,383.1 553.4,378.4 560.5,381.8 567.4,381.1 574.5,379.7 581.5,382.4 588.6,379.7 595.6,377.1 602.6,375.0 609.4,371.0 616.7,381.1 623.5,379.7 630.5,381.5 637.5,379.7 644.6,380.7 651.6,381.8 660.0,383.1 663.0,382.8 673.4,382.4 687.2,381.5 694.6,382.0 708.7,382.4 715.6,383.1 729.5,384.4 736.6,382.8 743.5,383.8 750.5,382.8 757.6,385.1 758.0,395.0 342.0,395.0"/></clipPath>
<g clip-path="url(#cVb)">
<rect x="343" y="360" width="6" height="40" fill="#087808" />
<rect x="349" y="360" width="21" height="40" fill="#0b4a8a" />
<rect x="370" y="360" width="28" height="40" fill="#1a8cff" />
<rect x="398" y="360" width="43" height="40" fill="#0b4a8a" />
<rect x="441" y="360" width="70" height="40" fill="#087808" />
<rect x="511" y="360" width="21" height="40" fill="#0b4a8a" />
<rect x="532" y="360" width="57" height="40" fill="#087808" />
<rect x="589" y="360" width="6" height="40" fill="#11bb11" />
<rect x="595" y="360" width="7" height="40" fill="#33ee11" />
<rect x="602" y="360" width="7" height="40" fill="#66ff44" />
<rect x="609" y="360" width="7" height="40" fill="#33ee11" />
<rect x="616" y="360" width="36" height="40" fill="#087808" />
<rect x="652" y="360" width="35" height="40" fill="#0b4a8a" />
<rect x="687" y="360" width="7" height="40" fill="#087808" />
<rect x="694" y="360" width="63" height="40" fill="#0b4a8a" />
</g>
<polyline points="342.7,381.8 356.4,382.4 370.6,385.1 384.3,386.5 398.6,385.1 419.8,385.1 433.9,384.4 440.9,382.0 450.0,381.1 455.0,382.0 462.4,381.1 476.5,381.8 483.9,380.7 497.3,381.5 504.4,378.0 511.4,382.8 525.5,382.0 532.5,383.4 539.6,378.0 546.5,383.1 553.4,378.4 560.5,381.8 567.4,381.1 574.5,379.7 581.5,382.4 588.6,379.7 595.6,377.1 602.6,375.0 609.4,371.0 616.7,381.1 623.5,379.7 630.5,381.5 637.5,379.7 644.6,380.7 651.6,381.8 660.0,383.1 663.0,382.8 673.4,382.4 687.2,381.5 694.6,382.0 708.7,382.4 715.6,383.1 729.5,384.4 736.6,382.8 743.5,383.8 750.5,382.8 757.6,385.1" fill="none" stroke="#000099" stroke-width="2.4" stroke-linejoin="round" shape-rendering="auto"/>
<line x1="342" y1="361.5" x2="356" y2="361.5" stroke="#ff0000" stroke-width="1" />
<line x1="356" y1="364.5" x2="363" y2="364.5" stroke="#ff0000" stroke-width="1" />
<line x1="363" y1="366.5" x2="370" y2="366.5" stroke="#ff0000" stroke-width="1" />
<line x1="370" y1="370.5" x2="377" y2="370.5" stroke="#ff0000" stroke-width="1" />
<line x1="377" y1="371.5" x2="391" y2="371.5" stroke="#ff0000" stroke-width="1" />
<line x1="391" y1="369.5" x2="405" y2="369.5" stroke="#ff0000" stroke-width="1" />
<line x1="405" y1="370.5" x2="412" y2="370.5" stroke="#ff0000" stroke-width="1" />
<line x1="412" y1="368.5" x2="419" y2="368.5" stroke="#ff0000" stroke-width="1" />
<line x1="419" y1="368.5" x2="426" y2="368.5" stroke="#ff0000" stroke-width="1" />
<line x1="426" y1="367.5" x2="433" y2="367.5" stroke="#ff0000" stroke-width="1" />
<line x1="433" y1="364.5" x2="440" y2="364.5" stroke="#ff0000" stroke-width="1" />
<line x1="440" y1="361.5" x2="448" y2="361.5" stroke="#ff0000" stroke-width="1" />
<line x1="448" y1="360.5" x2="455" y2="360.5" stroke="#ff0000" stroke-width="1" />
<line x1="455" y1="362.5" x2="462" y2="362.5" stroke="#ff0000" stroke-width="1" />
<line x1="462" y1="360.5" x2="476" y2="360.5" stroke="#ff0000" stroke-width="1" />
<line x1="476" y1="357.5" x2="490" y2="357.5" stroke="#ff0000" stroke-width="1" />
<line x1="490" y1="358.5" x2="497" y2="358.5" stroke="#ff0000" stroke-width="1" />
<line x1="497" y1="352.5" x2="511" y2="352.5" stroke="#ff0000" stroke-width="1" />
<line x1="511" y1="363.5" x2="532" y2="363.5" stroke="#ff0000" stroke-width="1" />
<line x1="532" y1="350.5" x2="539" y2="350.5" stroke="#ff0000" stroke-width="1" />
<line x1="539" y1="345.5" x2="546" y2="345.5" stroke="#ff0000" stroke-width="1" />
<line x1="546" y1="350.5" x2="553" y2="350.5" stroke="#ff0000" stroke-width="1" />
<line x1="553" y1="352.5" x2="560" y2="352.5" stroke="#ff0000" stroke-width="1" />
<line x1="560" y1="350.5" x2="567" y2="350.5" stroke="#ff0000" stroke-width="1" />
<line x1="567" y1="334.5" x2="574" y2="334.5" stroke="#ff0000" stroke-width="1" />
<line x1="574" y1="354.5" x2="581" y2="354.5" stroke="#ff0000" stroke-width="1" />
<line x1="581" y1="357.5" x2="588" y2="357.5" stroke="#ff0000" stroke-width="1" />
<line x1="588" y1="350.5" x2="595" y2="350.5" stroke="#ff0000" stroke-width="1" />
<line x1="595" y1="336.5" x2="602" y2="336.5" stroke="#ff0000" stroke-width="1" />
<line x1="602" y1="332.5" x2="616" y2="332.5" stroke="#ff0000" stroke-width="1" />
<line x1="616" y1="354.5" x2="623" y2="354.5" stroke="#ff0000" stroke-width="1" />
<line x1="623" y1="352.5" x2="630" y2="352.5" stroke="#ff0000" stroke-width="1" />
<line x1="630" y1="350.5" x2="637" y2="350.5" stroke="#ff0000" stroke-width="1" />
<line x1="637" y1="348.5" x2="644" y2="348.5" stroke="#ff0000" stroke-width="1" />
<line x1="644" y1="359.5" x2="651" y2="359.5" stroke="#ff0000" stroke-width="1" />
<line x1="651" y1="361.5" x2="658" y2="361.5" stroke="#ff0000" stroke-width="1" />
<line x1="658" y1="364.5" x2="665" y2="364.5" stroke="#ff0000" stroke-width="1" />
<line x1="665" y1="364.5" x2="673" y2="364.5" stroke="#ff0000" stroke-width="1" />
<line x1="673" y1="363.5" x2="680" y2="363.5" stroke="#ff0000" stroke-width="1" />
<line x1="680" y1="361.5" x2="694" y2="361.5" stroke="#ff0000" stroke-width="1" />
<line x1="694" y1="364.5" x2="708" y2="364.5" stroke="#ff0000" stroke-width="1" />
<line x1="708" y1="362.5" x2="722" y2="362.5" stroke="#ff0000" stroke-width="1" />
<line x1="722" y1="364.5" x2="743" y2="364.5" stroke="#ff0000" stroke-width="1" />
<line x1="743" y1="366.5" x2="750" y2="366.5" stroke="#ff0000" stroke-width="1" />
<line x1="750" y1="365.5" x2="757" y2="365.5" stroke="#ff0000" stroke-width="1" />
<line x1="343" y1="318.5" x2="757" y2="318.5" stroke="#000" stroke-width="1" stroke-dasharray="2 2"/>
<line x1="343" y1="344.5" x2="757" y2="344.5" stroke="#000" stroke-width="1" stroke-dasharray="2 2"/>
<line x1="343" y1="369.5" x2="757" y2="369.5" stroke="#000" stroke-width="1" stroke-dasharray="2 2"/>
<line x1="356.5" y1="318" x2="356.5" y2="395" stroke="#000" stroke-width="1" stroke-dasharray="2 2"/>
<line x1="377.5" y1="318" x2="377.5" y2="395" stroke="#000" stroke-width="1" stroke-dasharray="2 2"/>
<line x1="398.5" y1="318" x2="398.5" y2="395" stroke="#000" stroke-width="1" stroke-dasharray="2 2"/>
<line x1="419.5" y1="318" x2="419.5" y2="395" stroke="#000" stroke-width="1" stroke-dasharray="2 2"/>
<line x1="440.5" y1="318" x2="440.5" y2="395" stroke="#000" stroke-width="1" stroke-dasharray="2 2"/>
<line x1="462.5" y1="318" x2="462.5" y2="395" stroke="#000" stroke-width="1" stroke-dasharray="2 2"/>
<line x1="483.5" y1="318" x2="483.5" y2="395" stroke="#000" stroke-width="1" stroke-dasharray="2 2"/>
<line x1="504.5" y1="318" x2="504.5" y2="395" stroke="#000" stroke-width="1" stroke-dasharray="2 2"/>
<line x1="525.5" y1="318" x2="525.5" y2="395" stroke="#000" stroke-width="1" stroke-dasharray="2 2"/>
<line x1="546.5" y1="318" x2="546.5" y2="395" stroke="#000" stroke-width="1" stroke-dasharray="2 2"/>
<line x1="567.5" y1="318" x2="567.5" y2="395" stroke="#000" stroke-width="1" stroke-dasharray="2 2"/>
<line x1="588.5" y1="318" x2="588.5" y2="395" stroke="#000" stroke-width="1" stroke-dasharray="2 2"/>
<line x1="609.5" y1="318" x2="609.5" y2="395" stroke="#000" stroke-width="1" stroke-dasharray="2 2"/>
<line x1="630.5" y1="318" x2="630.5" y2="395" stroke="#000" stroke-width="1" stroke-dasharray="2 2"/>
<line x1="652.5" y1="318" x2="652.5" y2="395" stroke="#000" stroke-width="1" stroke-dasharray="2 2"/>
<line x1="673.5" y1="318" x2="673.5" y2="395" stroke="#000" stroke-width="1" stroke-dasharray="2 2"/>
<line x1="694.5" y1="318" x2="694.5" y2="395" stroke="#000" stroke-width="1" stroke-dasharray="2 2"/>
<line x1="715.5" y1="318" x2="715.5" y2="395" stroke="#000" stroke-width="1" stroke-dasharray="2 2"/>
<line x1="736.5" y1="318" x2="736.5" y2="395" stroke="#000" stroke-width="1" stroke-dasharray="2 2"/>
</g>
<rect x="342.5" y="317.5" width="415" height="78" fill="none" stroke="#000" stroke-width="1"/>
<text x="337.5" y="322.7" font-size="10.8" fill="#000" stroke="#000" stroke-width="0.22" text-anchor="end" >30</text>
<text x="337.5" y="348.5" font-size="10.8" fill="#000" stroke="#000" stroke-width="0.22" text-anchor="end" >20</text>
<text x="337.5" y="373.5" font-size="10.8" fill="#000" stroke="#000" stroke-width="0.22" text-anchor="end" >10</text>
<text x="337.5" y="398.5" font-size="10.8" fill="#000" stroke="#000" stroke-width="0.22" text-anchor="end" >0</text>
<text x="769.5" y="323.5" font-size="10.8" fill="#000" stroke="#000" stroke-width="0.22" text-anchor="middle" >108</text>
<text x="769.5" y="348.7" font-size="10.8" fill="#000" stroke="#000" stroke-width="0.22" text-anchor="middle" >72</text>
<text x="769.5" y="374.5" font-size="10.8" fill="#000" stroke="#000" stroke-width="0.22" text-anchor="middle" >36</text>
<text x="769.5" y="399.3" font-size="10.8" fill="#000" stroke="#000" stroke-width="0.22" text-anchor="middle" >0</text>
<text transform="translate(292.2,361) rotate(-90)" font-size="12.2" fill="#0c0c84" stroke="#0c0c84" stroke-width="0.22" text-anchor="middle">wiatr</text>
<text transform="translate(306,361) rotate(-90)" font-size="12.2" fill="#0c0c84" stroke="#0c0c84" stroke-width="0.22" text-anchor="middle">(m/s)</text>
<text transform="translate(803.2,360.5) rotate(-90)" font-size="12.2" fill="#0c0c84" stroke="#0c0c84" stroke-width="0.22" text-anchor="middle">(km/h)</text>
<text transform="translate(815,360.5) rotate(-90)" font-size="12.2" fill="#0c0c84" stroke="#0c0c84" stroke-width="0.22" text-anchor="middle">wiatr</text>
<clipPath id="cD"><rect x="336" y="402" width="427" height="29"/></clipPath>
<line x1="356.5" y1="402" x2="356.5" y2="431" stroke="#000" stroke-width="1" stroke-dasharray="2 2"/>
<line x1="377.5" y1="402" x2="377.5" y2="431" stroke="#000" stroke-width="1" stroke-dasharray="2 2"/>
<line x1="398.5" y1="402" x2="398.5" y2="431" stroke="#000" stroke-width="1" stroke-dasharray="2 2"/>
<line x1="419.5" y1="402" x2="419.5" y2="431" stroke="#000" stroke-width="1" stroke-dasharray="2 2"/>
<line x1="440.5" y1="402" x2="440.5" y2="431" stroke="#000" stroke-width="1" stroke-dasharray="2 2"/>
<line x1="462.5" y1="402" x2="462.5" y2="431" stroke="#000" stroke-width="1" stroke-dasharray="2 2"/>
<line x1="483.5" y1="402" x2="483.5" y2="431" stroke="#000" stroke-width="1" stroke-dasharray="2 2"/>
<line x1="504.5" y1="402" x2="504.5" y2="431" stroke="#000" stroke-width="1" stroke-dasharray="2 2"/>
<line x1="525.5" y1="402" x2="525.5" y2="431" stroke="#000" stroke-width="1" stroke-dasharray="2 2"/>
<line x1="546.5" y1="402" x2="546.5" y2="431" stroke="#000" stroke-width="1" stroke-dasharray="2 2"/>
<line x1="567.5" y1="402" x2="567.5" y2="431" stroke="#000" stroke-width="1" stroke-dasharray="2 2"/>
<line x1="588.5" y1="402" x2="588.5" y2="431" stroke="#000" stroke-width="1" stroke-dasharray="2 2"/>
<line x1="609.5" y1="402" x2="609.5" y2="431" stroke="#000" stroke-width="1" stroke-dasharray="2 2"/>
<line x1="630.5" y1="402" x2="630.5" y2="431" stroke="#000" stroke-width="1" stroke-dasharray="2 2"/>
<line x1="652.5" y1="402" x2="652.5" y2="431" stroke="#000" stroke-width="1" stroke-dasharray="2 2"/>
<line x1="673.5" y1="402" x2="673.5" y2="431" stroke="#000" stroke-width="1" stroke-dasharray="2 2"/>
<line x1="694.5" y1="402" x2="694.5" y2="431" stroke="#000" stroke-width="1" stroke-dasharray="2 2"/>
<line x1="715.5" y1="402" x2="715.5" y2="431" stroke="#000" stroke-width="1" stroke-dasharray="2 2"/>
<line x1="736.5" y1="402" x2="736.5" y2="431" stroke="#000" stroke-width="1" stroke-dasharray="2 2"/>
<g clip-path="url(#cD)" shape-rendering="auto">
<line x1="336.7" y1="412.0" x2="348.2" y2="421.6" stroke="#0000aa" stroke-width="1.2"/>
<polygon points="348.2,421.6 342.3,420.1 345.6,416.1" fill="#0000aa"/>
<line x1="343.7" y1="412.0" x2="355.2" y2="421.6" stroke="#0000aa" stroke-width="1.2"/>
<polygon points="355.2,421.6 349.3,420.1 352.7,416.1" fill="#0000aa"/>
<line x1="350.6" y1="412.2" x2="362.4" y2="421.4" stroke="#0000aa" stroke-width="1.2"/>
<polygon points="362.4,421.4 356.5,420.1 359.7,416.0" fill="#0000aa"/>
<line x1="356.5" y1="414.2" x2="370.6" y2="419.4" stroke="#0000aa" stroke-width="1.2"/>
<polygon points="370.6,419.4 364.5,419.9 366.3,415.0" fill="#0000aa"/>
<line x1="363.2" y1="415.2" x2="377.9" y2="418.4" stroke="#0000aa" stroke-width="1.2"/>
<polygon points="377.9,418.4 372.0,419.8 373.1,414.7" fill="#0000aa"/>
<line x1="370.2" y1="415.5" x2="385.0" y2="418.1" stroke="#0000aa" stroke-width="1.2"/>
<polygon points="385.0,418.1 379.1,419.7 380.0,414.6" fill="#0000aa"/>
<line x1="377.3" y1="415.5" x2="392.0" y2="418.1" stroke="#0000aa" stroke-width="1.2"/>
<polygon points="392.0,418.1 386.2,419.7 387.1,414.6" fill="#0000aa"/>
<line x1="384.3" y1="415.5" x2="399.1" y2="418.1" stroke="#0000aa" stroke-width="1.2"/>
<polygon points="399.1,418.1 393.2,419.7 394.1,414.6" fill="#0000aa"/>
<line x1="391.3" y1="415.5" x2="406.1" y2="418.1" stroke="#0000aa" stroke-width="1.2"/>
<polygon points="406.1,418.1 400.2,419.7 401.1,414.6" fill="#0000aa"/>
<line x1="398.4" y1="415.5" x2="413.1" y2="418.1" stroke="#0000aa" stroke-width="1.2"/>
<polygon points="413.1,418.1 407.3,419.7 408.2,414.6" fill="#0000aa"/>
<line x1="405.4" y1="415.5" x2="420.2" y2="418.1" stroke="#0000aa" stroke-width="1.2"/>
<polygon points="420.2,418.1 414.3,419.7 415.2,414.6" fill="#0000aa"/>
<line x1="412.5" y1="415.5" x2="427.2" y2="418.1" stroke="#0000aa" stroke-width="1.2"/>
<polygon points="427.2,418.1 421.4,419.7 422.3,414.6" fill="#0000aa"/>
<line x1="419.5" y1="415.5" x2="434.3" y2="418.1" stroke="#0000aa" stroke-width="1.2"/>
<polygon points="434.3,418.1 428.4,419.7 429.3,414.6" fill="#0000aa"/>
<line x1="426.5" y1="415.5" x2="441.3" y2="418.1" stroke="#0000aa" stroke-width="1.2"/>
<polygon points="441.3,418.1 435.4,419.7 436.3,414.6" fill="#0000aa"/>
<line x1="433.6" y1="415.5" x2="448.3" y2="418.1" stroke="#0000aa" stroke-width="1.2"/>
<polygon points="448.3,418.1 442.5,419.7 443.4,414.6" fill="#0000aa"/>
<line x1="440.6" y1="415.5" x2="455.4" y2="418.1" stroke="#0000aa" stroke-width="1.2"/>
<polygon points="455.4,418.1 449.5,419.7 450.4,414.6" fill="#0000aa"/>
<line x1="448.0" y1="414.2" x2="462.1" y2="419.4" stroke="#0000aa" stroke-width="1.2"/>
<polygon points="462.1,419.4 456.0,419.9 457.8,415.0" fill="#0000aa"/>
<line x1="455.6" y1="413.1" x2="468.6" y2="420.6" stroke="#0000aa" stroke-width="1.2"/>
<polygon points="468.6,420.6 462.5,420.1 465.1,415.5" fill="#0000aa"/>
<line x1="463.4" y1="412.0" x2="474.8" y2="421.6" stroke="#0000aa" stroke-width="1.2"/>
<polygon points="474.8,421.6 469.0,420.1 472.3,416.1" fill="#0000aa"/>
<line x1="470.8" y1="411.5" x2="481.4" y2="422.1" stroke="#0000aa" stroke-width="1.2"/>
<polygon points="481.4,422.1 475.7,420.1 479.4,416.4" fill="#0000aa"/>
<line x1="478.3" y1="411.1" x2="488.0" y2="422.5" stroke="#0000aa" stroke-width="1.2"/>
<polygon points="488.0,422.5 482.5,420.0 486.4,416.7" fill="#0000aa"/>
<line x1="485.4" y1="411.1" x2="495.0" y2="422.5" stroke="#0000aa" stroke-width="1.2"/>
<polygon points="495.0,422.5 489.5,420.0 493.5,416.7" fill="#0000aa"/>
<line x1="492.4" y1="411.1" x2="502.1" y2="422.5" stroke="#0000aa" stroke-width="1.2"/>
<polygon points="502.1,422.5 496.5,420.0 500.5,416.7" fill="#0000aa"/>
<line x1="500.0" y1="410.7" x2="508.6" y2="422.9" stroke="#0000aa" stroke-width="1.2"/>
<polygon points="508.6,422.9 503.3,419.9 507.6,416.9" fill="#0000aa"/>
<line x1="505.6" y1="412.0" x2="517.1" y2="421.6" stroke="#0000aa" stroke-width="1.2"/>
<polygon points="517.1,421.6 511.2,420.1 514.5,416.1" fill="#0000aa"/>
<line x1="512.6" y1="412.0" x2="524.1" y2="421.6" stroke="#0000aa" stroke-width="1.2"/>
<polygon points="524.1,421.6 518.2,420.1 521.6,416.1" fill="#0000aa"/>
<line x1="518.9" y1="413.1" x2="531.9" y2="420.6" stroke="#0000aa" stroke-width="1.2"/>
<polygon points="531.9,420.6 525.8,420.1 528.4,415.5" fill="#0000aa"/>
<line x1="526.3" y1="412.5" x2="538.6" y2="421.1" stroke="#0000aa" stroke-width="1.2"/>
<polygon points="538.6,421.1 532.6,420.1 535.6,415.8" fill="#0000aa"/>
<line x1="535.7" y1="410.3" x2="543.2" y2="423.3" stroke="#0000aa" stroke-width="1.2"/>
<polygon points="543.2,423.3 538.2,419.8 542.7,417.2" fill="#0000aa"/>
<line x1="540.8" y1="412.0" x2="552.2" y2="421.6" stroke="#0000aa" stroke-width="1.2"/>
<polygon points="552.2,421.6 546.4,420.1 549.7,416.1" fill="#0000aa"/>
<line x1="547.8" y1="412.0" x2="559.3" y2="421.6" stroke="#0000aa" stroke-width="1.2"/>
<polygon points="559.3,421.6 553.4,420.1 556.7,416.1" fill="#0000aa"/>
<line x1="554.8" y1="412.0" x2="566.3" y2="421.6" stroke="#0000aa" stroke-width="1.2"/>
<polygon points="566.3,421.6 560.4,420.1 563.8,416.1" fill="#0000aa"/>
<line x1="561.9" y1="412.0" x2="573.4" y2="421.6" stroke="#0000aa" stroke-width="1.2"/>
<polygon points="573.4,421.6 567.5,420.1 570.8,416.1" fill="#0000aa"/>
<line x1="574.7" y1="409.3" x2="574.7" y2="424.3" stroke="#0000aa" stroke-width="1.2"/>
<polygon points="574.7,424.3 572.1,418.8 577.3,418.8" fill="#0000aa"/>
<line x1="575.2" y1="413.1" x2="588.2" y2="420.6" stroke="#0000aa" stroke-width="1.2"/>
<polygon points="588.2,420.6 582.1,420.1 584.7,415.5" fill="#0000aa"/>
<line x1="582.6" y1="412.5" x2="594.9" y2="421.1" stroke="#0000aa" stroke-width="1.2"/>
<polygon points="594.9,421.1 588.9,420.1 591.9,415.8" fill="#0000aa"/>
<line x1="589.6" y1="412.5" x2="601.9" y2="421.1" stroke="#0000aa" stroke-width="1.2"/>
<polygon points="601.9,421.1 595.9,420.1 598.9,415.8" fill="#0000aa"/>
<line x1="597.1" y1="412.0" x2="608.5" y2="421.6" stroke="#0000aa" stroke-width="1.2"/>
<polygon points="608.5,421.6 602.7,420.1 606.0,416.1" fill="#0000aa"/>
<line x1="604.1" y1="412.0" x2="615.6" y2="421.6" stroke="#0000aa" stroke-width="1.2"/>
<polygon points="615.6,421.6 609.7,420.1 613.0,416.1" fill="#0000aa"/>
<line x1="611.3" y1="411.8" x2="622.4" y2="421.8" stroke="#0000aa" stroke-width="1.2"/>
<polygon points="622.4,421.8 616.6,420.1 620.1,416.2" fill="#0000aa"/>
<line x1="618.3" y1="411.8" x2="629.5" y2="421.8" stroke="#0000aa" stroke-width="1.2"/>
<polygon points="629.5,421.8 623.7,420.1 627.1,416.2" fill="#0000aa"/>
<line x1="625.6" y1="411.5" x2="636.3" y2="422.1" stroke="#0000aa" stroke-width="1.2"/>
<polygon points="636.3,422.1 630.5,420.1 634.2,416.4" fill="#0000aa"/>
<line x1="632.7" y1="411.5" x2="643.3" y2="422.1" stroke="#0000aa" stroke-width="1.2"/>
<polygon points="643.3,422.1 637.6,420.1 641.2,416.4" fill="#0000aa"/>
<line x1="639.7" y1="411.5" x2="650.3" y2="422.1" stroke="#0000aa" stroke-width="1.2"/>
<polygon points="650.3,422.1 644.6,420.1 648.3,416.4" fill="#0000aa"/>
<line x1="646.8" y1="411.5" x2="657.4" y2="422.1" stroke="#0000aa" stroke-width="1.2"/>
<polygon points="657.4,422.1 651.6,420.1 655.3,416.4" fill="#0000aa"/>
<line x1="653.8" y1="411.5" x2="664.4" y2="422.1" stroke="#0000aa" stroke-width="1.2"/>
<polygon points="664.4,422.1 658.7,420.1 662.3,416.4" fill="#0000aa"/>
<line x1="660.8" y1="411.5" x2="671.4" y2="422.1" stroke="#0000aa" stroke-width="1.2"/>
<polygon points="671.4,422.1 665.7,420.1 669.4,416.4" fill="#0000aa"/>
<line x1="668.2" y1="411.2" x2="678.2" y2="422.4" stroke="#0000aa" stroke-width="1.2"/>
<polygon points="678.2,422.4 672.6,420.0 676.4,416.5" fill="#0000aa"/>
<line x1="675.2" y1="411.2" x2="685.2" y2="422.4" stroke="#0000aa" stroke-width="1.2"/>
<polygon points="685.2,422.4 679.6,420.0 683.5,416.5" fill="#0000aa"/>
<line x1="682.2" y1="411.2" x2="692.3" y2="422.4" stroke="#0000aa" stroke-width="1.2"/>
<polygon points="692.3,422.4 686.6,420.0 690.5,416.5" fill="#0000aa"/>
<line x1="689.5" y1="411.1" x2="699.1" y2="422.5" stroke="#0000aa" stroke-width="1.2"/>
<polygon points="699.1,422.5 693.6,420.0 697.6,416.7" fill="#0000aa"/>
<line x1="696.5" y1="411.1" x2="706.1" y2="422.5" stroke="#0000aa" stroke-width="1.2"/>
<polygon points="706.1,422.5 700.6,420.0 704.6,416.7" fill="#0000aa"/>
<line x1="703.5" y1="411.1" x2="713.2" y2="422.5" stroke="#0000aa" stroke-width="1.2"/>
<polygon points="713.2,422.5 707.6,420.0 711.6,416.7" fill="#0000aa"/>
<line x1="710.6" y1="411.1" x2="720.2" y2="422.5" stroke="#0000aa" stroke-width="1.2"/>
<polygon points="720.2,422.5 714.7,420.0 718.7,416.7" fill="#0000aa"/>
<line x1="717.6" y1="411.1" x2="727.2" y2="422.5" stroke="#0000aa" stroke-width="1.2"/>
<polygon points="727.2,422.5 721.7,420.0 725.7,416.7" fill="#0000aa"/>
<line x1="724.8" y1="410.9" x2="734.1" y2="422.7" stroke="#0000aa" stroke-width="1.2"/>
<polygon points="734.1,422.7 728.6,420.0 732.7,416.8" fill="#0000aa"/>
<line x1="731.9" y1="410.9" x2="741.1" y2="422.7" stroke="#0000aa" stroke-width="1.2"/>
<polygon points="741.1,422.7 735.7,420.0 739.8,416.8" fill="#0000aa"/>
<line x1="738.9" y1="410.9" x2="748.2" y2="422.7" stroke="#0000aa" stroke-width="1.2"/>
<polygon points="748.2,422.7 742.7,420.0 746.8,416.8" fill="#0000aa"/>
<line x1="746.3" y1="410.7" x2="754.9" y2="422.9" stroke="#0000aa" stroke-width="1.2"/>
<polygon points="754.9,422.9 749.6,419.9 753.9,416.9" fill="#0000aa"/>
<line x1="753.3" y1="410.7" x2="761.9" y2="422.9" stroke="#0000aa" stroke-width="1.2"/>
<polygon points="761.9,422.9 756.6,419.9 760.9,416.9" fill="#0000aa"/>
</g>
<rect x="342.5" y="401.5" width="415" height="30" fill="none" stroke="#000" stroke-width="1"/>
<text x="294.2" y="411.2" font-size="11.8" fill="#0c0c84" stroke="#0c0c84" stroke-width="0.22" text-anchor="start" >N</text>
<text x="284" y="419.8" font-size="11.8" fill="#0c0c84" stroke="#0c0c84" stroke-width="0.22" text-anchor="start" >W</text>
<text x="301.8" y="419.8" font-size="11.8" fill="#0c0c84" stroke="#0c0c84" stroke-width="0.22" text-anchor="start" textLength="6" lengthAdjust="spacingAndGlyphs">E</text>
<text x="294.4" y="427.4" font-size="11.8" fill="#0c0c84" stroke="#0c0c84" stroke-width="0.22" text-anchor="start" >S</text>
<text x="803.2" y="411.2" font-size="11.8" fill="#0c0c84" stroke="#0c0c84" stroke-width="0.22" text-anchor="start" >N</text>
<text x="793" y="419.8" font-size="11.8" fill="#0c0c84" stroke="#0c0c84" stroke-width="0.22" text-anchor="start" >W</text>
<text x="810.8" y="419.8" font-size="11.8" fill="#0c0c84" stroke="#0c0c84" stroke-width="0.22" text-anchor="start" textLength="6" lengthAdjust="spacingAndGlyphs">E</text>
<text x="803.4" y="427.4" font-size="11.8" fill="#0c0c84" stroke="#0c0c84" stroke-width="0.22" text-anchor="start" >S</text>
<clipPath id="cB"><rect x="343" y="439" width="414" height="77"/></clipPath>
<g clip-path="url(#cB)">
<rect x="343" y="438" width="414" height="78" fill="#80c3ec" />
<rect x="426" y="438" width="52" height="78" fill="#87d1fa" />
<rect x="595" y="438" width="52" height="78" fill="#87d1fa" />
<line x1="343" y1="439.5" x2="757" y2="439.5" stroke="#000" stroke-width="1" stroke-dasharray="2 2"/>
<line x1="343" y1="457.5" x2="757" y2="457.5" stroke="#000" stroke-width="1" stroke-dasharray="2 2"/>
<line x1="343" y1="477.5" x2="757" y2="477.5" stroke="#000" stroke-width="1" stroke-dasharray="2 2"/>
<line x1="343" y1="496.5" x2="757" y2="496.5" stroke="#000" stroke-width="1" stroke-dasharray="2 2"/>
<line x1="356.5" y1="439" x2="356.5" y2="516" stroke="#000" stroke-width="1" stroke-dasharray="2 2"/>
<line x1="377.5" y1="439" x2="377.5" y2="516" stroke="#000" stroke-width="1" stroke-dasharray="2 2"/>
<line x1="398.5" y1="439" x2="398.5" y2="516" stroke="#000" stroke-width="1" stroke-dasharray="2 2"/>
<line x1="419.5" y1="439" x2="419.5" y2="516" stroke="#000" stroke-width="1" stroke-dasharray="2 2"/>
<line x1="440.5" y1="439" x2="440.5" y2="516" stroke="#000" stroke-width="1" stroke-dasharray="2 2"/>
<line x1="462.5" y1="439" x2="462.5" y2="516" stroke="#000" stroke-width="1" stroke-dasharray="2 2"/>
<line x1="483.5" y1="439" x2="483.5" y2="516" stroke="#000" stroke-width="1" stroke-dasharray="2 2"/>
<line x1="504.5" y1="439" x2="504.5" y2="516" stroke="#000" stroke-width="1" stroke-dasharray="2 2"/>
<line x1="525.5" y1="439" x2="525.5" y2="516" stroke="#000" stroke-width="1" stroke-dasharray="2 2"/>
<line x1="546.5" y1="439" x2="546.5" y2="516" stroke="#000" stroke-width="1" stroke-dasharray="2 2"/>
<line x1="567.5" y1="439" x2="567.5" y2="516" stroke="#000" stroke-width="1" stroke-dasharray="2 2"/>
<line x1="588.5" y1="439" x2="588.5" y2="516" stroke="#000" stroke-width="1" stroke-dasharray="2 2"/>
<line x1="609.5" y1="439" x2="609.5" y2="516" stroke="#000" stroke-width="1" stroke-dasharray="2 2"/>
<line x1="630.5" y1="439" x2="630.5" y2="516" stroke="#000" stroke-width="1" stroke-dasharray="2 2"/>
<line x1="652.5" y1="439" x2="652.5" y2="516" stroke="#000" stroke-width="1" stroke-dasharray="2 2"/>
<line x1="673.5" y1="439" x2="673.5" y2="516" stroke="#000" stroke-width="1" stroke-dasharray="2 2"/>
<line x1="694.5" y1="439" x2="694.5" y2="516" stroke="#000" stroke-width="1" stroke-dasharray="2 2"/>
<line x1="715.5" y1="439" x2="715.5" y2="516" stroke="#000" stroke-width="1" stroke-dasharray="2 2"/>
<line x1="736.5" y1="439" x2="736.5" y2="516" stroke="#000" stroke-width="1" stroke-dasharray="2 2"/>
<circle cx="342.4" cy="509" r="2.3" fill="#ffffff" shape-rendering="auto"/>
<circle cx="342.4" cy="493.7" r="2.3" fill="#c8c8c8" shape-rendering="auto"/>
<circle cx="342.4" cy="483" r="2.3" fill="#555555" shape-rendering="auto"/>
<circle cx="349.5" cy="510.5" r="2.3" fill="#ffffff" shape-rendering="auto"/>
<circle cx="349.5" cy="492.4" r="2.3" fill="#c8c8c8" shape-rendering="auto"/>
<circle cx="349.5" cy="487" r="2.3" fill="#8a8a8a" shape-rendering="auto"/>
<circle cx="349.5" cy="483.4" r="2.3" fill="#555555" shape-rendering="auto"/>
<circle cx="356.5" cy="505.8" r="2.3" fill="#ffffff" shape-rendering="auto"/>
<circle cx="356.5" cy="489" r="2.3" fill="#8a8a8a" shape-rendering="auto"/>
<circle cx="356.5" cy="485" r="2.3" fill="#555555" shape-rendering="auto"/>
<circle cx="363.5" cy="507.8" r="2.3" fill="#ffffff" shape-rendering="auto"/>
<circle cx="363.5" cy="489" r="2.3" fill="#8a8a8a" shape-rendering="auto"/>
<circle cx="370.6" cy="508.5" r="2.3" fill="#ffffff" shape-rendering="auto"/>
<circle cx="370.6" cy="503" r="2.3" fill="#c8c8c8" shape-rendering="auto"/>
<circle cx="370.6" cy="494" r="2.3" fill="#8a8a8a" shape-rendering="auto"/>
<circle cx="370.6" cy="488" r="2.3" fill="#555555" shape-rendering="auto"/>
<circle cx="377.6" cy="508.5" r="2.3" fill="#ffffff" shape-rendering="auto"/>
<circle cx="377.6" cy="503" r="2.3" fill="#c8c8c8" shape-rendering="auto"/>
<circle cx="377.6" cy="499.5" r="2.3" fill="#8a8a8a" shape-rendering="auto"/>
<circle cx="384.7" cy="507.1" r="2.3" fill="#ffffff" shape-rendering="auto"/>
<circle cx="384.7" cy="499.5" r="2.3" fill="#c8c8c8" shape-rendering="auto"/>
<circle cx="384.7" cy="489" r="2.3" fill="#000000" shape-rendering="auto"/>
<circle cx="391.7" cy="508.5" r="2.3" fill="#ffffff" shape-rendering="auto"/>
<circle cx="391.7" cy="503.8" r="2.3" fill="#8a8a8a" shape-rendering="auto"/>
<circle cx="391.7" cy="498.4" r="2.3" fill="#555555" shape-rendering="auto"/>
<circle cx="391.7" cy="489" r="2.3" fill="#000000" shape-rendering="auto"/>
<circle cx="398.7" cy="509" r="2.3" fill="#ffffff" shape-rendering="auto"/>
<circle cx="398.7" cy="505" r="2.3" fill="#8a8a8a" shape-rendering="auto"/>
<circle cx="398.7" cy="502.4" r="2.3" fill="#555555" shape-rendering="auto"/>
<circle cx="398.7" cy="489" r="2.3" fill="#000000" shape-rendering="auto"/>
<circle cx="405.8" cy="509.5" r="2.3" fill="#ffffff" shape-rendering="auto"/>
<circle cx="405.8" cy="506" r="2.3" fill="#8a8a8a" shape-rendering="auto"/>
<circle cx="405.8" cy="503" r="2.3" fill="#555555" shape-rendering="auto"/>
<circle cx="412.8" cy="509.5" r="2.3" fill="#ffffff" shape-rendering="auto"/>
<circle cx="412.8" cy="506" r="2.3" fill="#8a8a8a" shape-rendering="auto"/>
<circle cx="412.8" cy="503" r="2.3" fill="#555555" shape-rendering="auto"/>
<circle cx="412.8" cy="495.4" r="2.3" fill="#000000" shape-rendering="auto"/>
<circle cx="419.8" cy="509.5" r="2.3" fill="#ffffff" shape-rendering="auto"/>
<circle cx="419.8" cy="505" r="2.3" fill="#8a8a8a" shape-rendering="auto"/>
<circle cx="419.8" cy="501" r="2.3" fill="#555555" shape-rendering="auto"/>
<circle cx="419.8" cy="495.4" r="2.3" fill="#000000" shape-rendering="auto"/>
<circle cx="426.9" cy="509.5" r="2.3" fill="#ffffff" shape-rendering="auto"/>
<circle cx="426.9" cy="502" r="2.3" fill="#555555" shape-rendering="auto"/>
<circle cx="426.9" cy="495.4" r="2.3" fill="#000000" shape-rendering="auto"/>
<circle cx="433.9" cy="509.5" r="2.3" fill="#ffffff" shape-rendering="auto"/>
<circle cx="433.9" cy="502.4" r="2.3" fill="#8a8a8a" shape-rendering="auto"/>
<circle cx="433.9" cy="493" r="2.3" fill="#000000" shape-rendering="auto"/>
<circle cx="440.9" cy="508.5" r="2.3" fill="#ffffff" shape-rendering="auto"/>
<circle cx="440.9" cy="500.4" r="2.3" fill="#555555" shape-rendering="auto"/>
<circle cx="440.9" cy="492" r="2.3" fill="#000000" shape-rendering="auto"/>
<circle cx="448.0" cy="510.5" r="2.3" fill="#ffffff" shape-rendering="auto"/>
<circle cx="448.0" cy="503.8" r="2.3" fill="#000000" shape-rendering="auto"/>
<circle cx="455.0" cy="510.2" r="2.3" fill="#ffffff" shape-rendering="auto"/>
<circle cx="455.0" cy="505.1" r="2.3" fill="#000000" shape-rendering="auto"/>
<circle cx="462.1" cy="507.5" r="2.3" fill="#ffffff" shape-rendering="auto"/>
<circle cx="462.1" cy="499.5" r="2.3" fill="#8a8a8a" shape-rendering="auto"/>
<circle cx="462.1" cy="492" r="2.3" fill="#555555" shape-rendering="auto"/>
<circle cx="462.1" cy="479.6" r="2.3" fill="#000000" shape-rendering="auto"/>
<circle cx="469.1" cy="505.1" r="2.3" fill="#ffffff" shape-rendering="auto"/>
<circle cx="469.1" cy="485.6" r="2.3" fill="#8a8a8a" shape-rendering="auto"/>
<circle cx="469.1" cy="481.2" r="2.3" fill="#000000" shape-rendering="auto"/>
<circle cx="476.1" cy="510.2" r="2.3" fill="#ffffff" shape-rendering="auto"/>
<circle cx="476.1" cy="493.7" r="2.3" fill="#c8c8c8" shape-rendering="auto"/>
<circle cx="476.1" cy="489" r="2.3" fill="#8a8a8a" shape-rendering="auto"/>
<circle cx="483.2" cy="509.8" r="2.3" fill="#555555" shape-rendering="auto"/>
<circle cx="483.2" cy="504.4" r="2.3" fill="#000000" shape-rendering="auto"/>
<circle cx="490.2" cy="505.1" r="2.3" fill="#ffffff" shape-rendering="auto"/>
<circle cx="490.2" cy="490.6" r="2.3" fill="#c8c8c8" shape-rendering="auto"/>
<circle cx="497.2" cy="510.2" r="2.3" fill="#ffffff" shape-rendering="auto"/>
<circle cx="497.2" cy="494.1" r="2.3" fill="#c8c8c8" shape-rendering="auto"/>
<circle cx="497.2" cy="489" r="2.3" fill="#8a8a8a" shape-rendering="auto"/>
<circle cx="497.2" cy="483.4" r="2.3" fill="#000000" shape-rendering="auto"/>
<circle cx="504.3" cy="510.7" r="2.3" fill="#000000" shape-rendering="auto"/>
<circle cx="511.3" cy="510.5" r="2.3" fill="#ffffff" shape-rendering="auto"/>
<circle cx="518.4" cy="492.8" r="2.3" fill="#ffffff" shape-rendering="auto"/>
<circle cx="525.4" cy="503.1" r="2.3" fill="#ffffff" shape-rendering="auto"/>
<circle cx="525.4" cy="493" r="2.3" fill="#8a8a8a" shape-rendering="auto"/>
<circle cx="525.4" cy="489" r="2.3" fill="#000000" shape-rendering="auto"/>
<circle cx="532.4" cy="510.2" r="2.3" fill="#555555" shape-rendering="auto"/>
<circle cx="532.4" cy="494.6" r="2.3" fill="#000000" shape-rendering="auto"/>
<circle cx="539.5" cy="510.7" r="2.3" fill="#000000" shape-rendering="auto"/>
<circle cx="546.5" cy="510.5" r="2.3" fill="#ffffff" shape-rendering="auto"/>
<circle cx="546.5" cy="501.7" r="2.3" fill="#c8c8c8" shape-rendering="auto"/>
<circle cx="546.5" cy="495.5" r="2.3" fill="#555555" shape-rendering="auto"/>
<circle cx="546.5" cy="491" r="2.3" fill="#000000" shape-rendering="auto"/>
<circle cx="553.5" cy="510.7" r="2.3" fill="#000000" shape-rendering="auto"/>
<circle cx="560.6" cy="510.7" r="2.3" fill="#000000" shape-rendering="auto"/>
<circle cx="567.6" cy="510.7" r="2.3" fill="#000000" shape-rendering="auto"/>
<circle cx="574.7" cy="510.7" r="2.3" fill="#000000" shape-rendering="auto"/>
<circle cx="581.7" cy="510.7" r="2.3" fill="#000000" shape-rendering="auto"/>
<circle cx="588.7" cy="510.7" r="2.3" fill="#ffffff" shape-rendering="auto"/>
<circle cx="588.7" cy="470" r="2.3" fill="#8a8a8a" shape-rendering="auto"/>
<circle cx="595.8" cy="510.7" r="2.3" fill="#ffffff" shape-rendering="auto"/>
<circle cx="595.8" cy="503.5" r="2.3" fill="#c8c8c8" shape-rendering="auto"/>
<circle cx="595.8" cy="496" r="2.3" fill="#555555" shape-rendering="auto"/>
<circle cx="595.8" cy="492" r="2.3" fill="#000000" shape-rendering="auto"/>
<circle cx="602.8" cy="510.7" r="2.3" fill="#000000" shape-rendering="auto"/>
<circle cx="609.8" cy="510.7" r="2.3" fill="#000000" shape-rendering="auto"/>
<circle cx="616.9" cy="510.7" r="2.3" fill="#000000" shape-rendering="auto"/>
<circle cx="623.9" cy="510.7" r="2.3" fill="#8a8a8a" shape-rendering="auto"/>
<circle cx="623.9" cy="499.5" r="2.3" fill="#555555" shape-rendering="auto"/>
<circle cx="623.9" cy="496" r="2.3" fill="#000000" shape-rendering="auto"/>
<circle cx="630.9" cy="510.7" r="2.3" fill="#000000" shape-rendering="auto"/>
<circle cx="638.0" cy="509.8" r="2.3" fill="#555555" shape-rendering="auto"/>
<circle cx="638.0" cy="494.4" r="2.3" fill="#000000" shape-rendering="auto"/>
<circle cx="645.0" cy="510.7" r="2.3" fill="#ffffff" shape-rendering="auto"/>
<circle cx="645.0" cy="501.7" r="2.3" fill="#8a8a8a" shape-rendering="auto"/>
<circle cx="645.0" cy="483.4" r="2.3" fill="#555555" shape-rendering="auto"/>
<circle cx="645.0" cy="479" r="2.3" fill="#000000" shape-rendering="auto"/>
<circle cx="652.1" cy="510.7" r="2.3" fill="#ffffff" shape-rendering="auto"/>
<circle cx="652.1" cy="472.2" r="2.3" fill="#8a8a8a" shape-rendering="auto"/>
<circle cx="652.1" cy="467.8" r="2.3" fill="#555555" shape-rendering="auto"/>
<circle cx="659.1" cy="510.2" r="2.3" fill="#ffffff" shape-rendering="auto"/>
<circle cx="659.1" cy="479.6" r="2.3" fill="#c8c8c8" shape-rendering="auto"/>
<circle cx="659.1" cy="468.2" r="2.3" fill="#8a8a8a" shape-rendering="auto"/>
<circle cx="666.1" cy="510.2" r="2.3" fill="#555555" shape-rendering="auto"/>
<circle cx="673.2" cy="510.7" r="2.3" fill="#ffffff" shape-rendering="auto"/>
<circle cx="673.2" cy="480.9" r="2.3" fill="#c8c8c8" shape-rendering="auto"/>
<circle cx="673.2" cy="477.2" r="2.3" fill="#c8c8c8" shape-rendering="auto"/>
<circle cx="680.2" cy="510.7" r="2.3" fill="#ffffff" shape-rendering="auto"/>
<circle cx="680.2" cy="480.3" r="2.3" fill="#8a8a8a" shape-rendering="auto"/>
<circle cx="680.2" cy="471.3" r="2.3" fill="#555555" shape-rendering="auto"/>
<circle cx="687.2" cy="510.7" r="2.3" fill="#8a8a8a" shape-rendering="auto"/>
<circle cx="687.2" cy="473.6" r="2.3" fill="#555555" shape-rendering="auto"/>
<circle cx="694.3" cy="510.7" r="2.3" fill="#ffffff" shape-rendering="auto"/>
<circle cx="694.3" cy="493" r="2.3" fill="#c8c8c8" shape-rendering="auto"/>
<circle cx="694.3" cy="479.6" r="2.3" fill="#8a8a8a" shape-rendering="auto"/>
<circle cx="694.3" cy="476.7" r="2.3" fill="#555555" shape-rendering="auto"/>
<circle cx="701.3" cy="510.7" r="2.3" fill="#ffffff" shape-rendering="auto"/>
<circle cx="701.3" cy="493.7" r="2.3" fill="#8a8a8a" shape-rendering="auto"/>
<circle cx="701.3" cy="465.5" r="2.3" fill="#555555" shape-rendering="auto"/>
<circle cx="701.3" cy="463.2" r="2.3" fill="#000000" shape-rendering="auto"/>
<circle cx="708.4" cy="496.4" r="2.3" fill="#ffffff" shape-rendering="auto"/>
<circle cx="708.4" cy="473.6" r="2.3" fill="#8a8a8a" shape-rendering="auto"/>
<circle cx="708.4" cy="469.1" r="2.3" fill="#555555" shape-rendering="auto"/>
<circle cx="715.4" cy="509.8" r="2.3" fill="#ffffff" shape-rendering="auto"/>
<circle cx="715.4" cy="474.9" r="2.3" fill="#8a8a8a" shape-rendering="auto"/>
<circle cx="715.4" cy="471.3" r="2.3" fill="#555555" shape-rendering="auto"/>
<circle cx="722.4" cy="510.7" r="2.3" fill="#ffffff" shape-rendering="auto"/>
<circle cx="722.4" cy="497" r="2.3" fill="#c8c8c8" shape-rendering="auto"/>
<circle cx="722.4" cy="473.6" r="2.3" fill="#8a8a8a" shape-rendering="auto"/>
<circle cx="722.4" cy="469.6" r="2.3" fill="#555555" shape-rendering="auto"/>
<circle cx="729.5" cy="510.7" r="2.3" fill="#ffffff" shape-rendering="auto"/>
<circle cx="729.5" cy="476.3" r="2.3" fill="#c8c8c8" shape-rendering="auto"/>
<circle cx="736.5" cy="510.7" r="2.3" fill="#c8c8c8" shape-rendering="auto"/>
<circle cx="743.5" cy="510.7" r="2.3" fill="#ffffff" shape-rendering="auto"/>
<circle cx="750.6" cy="503.5" r="2.3" fill="#ffffff" shape-rendering="auto"/>
<circle cx="757.6" cy="472.2" r="2.3" fill="#ffffff" shape-rendering="auto"/>
<circle cx="757.6" cy="468.9" r="2.3" fill="#c8c8c8" shape-rendering="auto"/>
<circle cx="349.4" cy="452.8" r="2.3" fill="#b22222" shape-rendering="auto"/>
<circle cx="356.4" cy="453.9" r="2.3" fill="#b22222" shape-rendering="auto"/>
<circle cx="363.5" cy="453.5" r="2.3" fill="#b22222" shape-rendering="auto"/>
<circle cx="370.6" cy="452.1" r="2.3" fill="#b22222" shape-rendering="auto"/>
<circle cx="377.6" cy="453" r="2.3" fill="#b22222" shape-rendering="auto"/>
<circle cx="384.5" cy="458.4" r="2.3" fill="#b22222" shape-rendering="auto"/>
<circle cx="391.6" cy="466.5" r="2.3" fill="#b22222" shape-rendering="auto"/>
<circle cx="398.6" cy="487" r="2.3" fill="#b22222" shape-rendering="auto"/>
<circle cx="405.7" cy="489.7" r="2.3" fill="#b22222" shape-rendering="auto"/>
<circle cx="412.7" cy="491" r="2.3" fill="#b22222" shape-rendering="auto"/>
<circle cx="419.8" cy="491" r="2.3" fill="#b22222" shape-rendering="auto"/>
<circle cx="426.8" cy="478.5" r="2.3" fill="#b22222" shape-rendering="auto"/>
<circle cx="433.9" cy="476.7" r="2.3" fill="#b22222" shape-rendering="auto"/>
<circle cx="440.9" cy="478.5" r="2.3" fill="#b22222" shape-rendering="auto"/>
<circle cx="447.7" cy="472.9" r="2.3" fill="#b22222" shape-rendering="auto"/>
<circle cx="455" cy="471.6" r="2.3" fill="#b22222" shape-rendering="auto"/>
<circle cx="462.2" cy="471.8" r="2.3" fill="#b22222" shape-rendering="auto"/>
<circle cx="469.1" cy="473.2" r="2.3" fill="#b22222" shape-rendering="auto"/>
<circle cx="476.1" cy="475.9" r="2.3" fill="#b22222" shape-rendering="auto"/>
<circle cx="483.2" cy="472.6" r="2.3" fill="#b22222" shape-rendering="auto"/>
<circle cx="490.3" cy="475.9" r="2.3" fill="#b22222" shape-rendering="auto"/>
<circle cx="497.3" cy="471.8" r="2.3" fill="#b22222" shape-rendering="auto"/>
<circle cx="504.4" cy="470" r="2.3" fill="#b22222" shape-rendering="auto"/>
<circle cx="511.4" cy="474.5" r="2.3" fill="#b22222" shape-rendering="auto"/>
<circle cx="518.4" cy="478.3" r="2.3" fill="#b22222" shape-rendering="auto"/>
<circle cx="525.5" cy="470.2" r="2.3" fill="#b22222" shape-rendering="auto"/>
<circle cx="532.5" cy="466.5" r="2.3" fill="#b22222" shape-rendering="auto"/>
<circle cx="539.6" cy="465.5" r="2.3" fill="#b22222" shape-rendering="auto"/>
<circle cx="546.5" cy="464.9" r="2.3" fill="#b22222" shape-rendering="auto"/>
<circle cx="553.4" cy="466.2" r="2.3" fill="#b22222" shape-rendering="auto"/>
<circle cx="560.5" cy="463.5" r="2.3" fill="#b22222" shape-rendering="auto"/>
<circle cx="567.4" cy="460.6" r="2.3" fill="#b22222" shape-rendering="auto"/>
<circle cx="574.5" cy="460.6" r="2.3" fill="#b22222" shape-rendering="auto"/>
<circle cx="581.5" cy="461.5" r="2.3" fill="#b22222" shape-rendering="auto"/>
<circle cx="588.6" cy="461.5" r="2.3" fill="#b22222" shape-rendering="auto"/>
<circle cx="595.6" cy="458.1" r="2.3" fill="#b22222" shape-rendering="auto"/>
<circle cx="602.6" cy="459.5" r="2.3" fill="#b22222" shape-rendering="auto"/>
<circle cx="609.4" cy="458.1" r="2.3" fill="#b22222" shape-rendering="auto"/>
<circle cx="616.4" cy="458.1" r="2.3" fill="#b22222" shape-rendering="auto"/>
<circle cx="623.5" cy="458.1" r="2.3" fill="#b22222" shape-rendering="auto"/>
<circle cx="630.5" cy="458.1" r="2.3" fill="#b22222" shape-rendering="auto"/>
<circle cx="637.5" cy="458.1" r="2.3" fill="#b22222" shape-rendering="auto"/>
<circle cx="644.6" cy="459.2" r="2.3" fill="#b22222" shape-rendering="auto"/>
<circle cx="651.6" cy="459.2" r="2.3" fill="#b22222" shape-rendering="auto"/>
<circle cx="658.8" cy="460.2" r="2.3" fill="#b22222" shape-rendering="auto"/>
<circle cx="666" cy="459.2" r="2.3" fill="#b22222" shape-rendering="auto"/>
<circle cx="673.1" cy="459.2" r="2.3" fill="#b22222" shape-rendering="auto"/>
<circle cx="679.8" cy="459.2" r="2.3" fill="#b22222" shape-rendering="auto"/>
<circle cx="686.9" cy="462.4" r="2.3" fill="#b22222" shape-rendering="auto"/>
<circle cx="694.2" cy="461.5" r="2.3" fill="#b22222" shape-rendering="auto"/>
<circle cx="701.3" cy="460.2" r="2.3" fill="#b22222" shape-rendering="auto"/>
<circle cx="708.4" cy="460.2" r="2.3" fill="#b22222" shape-rendering="auto"/>
<circle cx="715.4" cy="460.6" r="2.3" fill="#b22222" shape-rendering="auto"/>
<circle cx="722.3" cy="461.5" r="2.3" fill="#b22222" shape-rendering="auto"/>
<circle cx="729.5" cy="462.4" r="2.3" fill="#b22222" shape-rendering="auto"/>
<circle cx="736.6" cy="472.2" r="2.3" fill="#b22222" shape-rendering="auto"/>
<circle cx="743.5" cy="474.2" r="2.3" fill="#b22222" shape-rendering="auto"/>
<circle cx="750.5" cy="463.5" r="2.3" fill="#b22222" shape-rendering="auto"/>
<circle cx="757.2" cy="462.4" r="2.3" fill="#b22222" shape-rendering="auto"/>
<circle cx="342.7" cy="452.5" r="2.3" fill="#b22222" shape-rendering="auto"/>
<polyline points="342.7,448.1 349.4,460.8 356.4,449.4 377.6,452.1 398.6,455.2 419.8,456.8 440.9,455.2 447.7,474.2 454.4,474.9 462.4,463.8 469.1,453.5 476.1,452.8 483.2,493.0 490.6,448.5 497.3,450.4 504.4,514.5 511.4,446.7 518.5,447.4 525.5,447.4 532.5,492.4 539.6,514.5 546.5,446.7 553.4,497.0 560.5,514.5 574.8,514.5 581.5,495.7 588.9,447.4 596.3,465.5 602.6,514.5 616.4,514.5 623.5,485.6 630.5,513.1 638.5,489.0 644.6,448.1 651.6,450.1 659.0,454.1 666.0,472.2 673.1,454.4 680.5,457.1 687.2,470.5 694.6,456.1 701.3,450.1 708.7,446.3 715.6,446.1 722.7,451.4 736.6,453.0 743.5,448.8 750.5,448.1 757.6,449.4" fill="none" stroke="#ff9900" stroke-width="2.4" stroke-linejoin="round" shape-rendering="auto"/>
</g>
<rect x="342.5" y="438.5" width="415" height="78" fill="none" stroke="#000" stroke-width="1"/>
<text x="337.5" y="443" font-size="10.8" fill="#000" stroke="#000" stroke-width="0.22" text-anchor="end" >15.0</text>
<text x="337.5" y="461.3" font-size="10.8" fill="#000" stroke="#000" stroke-width="0.22" text-anchor="end" >7.0</text>
<text x="337.5" y="481.3" font-size="10.8" fill="#000" stroke="#000" stroke-width="0.22" text-anchor="end" >2.0</text>
<text x="337.5" y="500.6" font-size="10.8" fill="#000" stroke="#000" stroke-width="0.22" text-anchor="end" >0.5</text>
<text x="337.5" y="520" font-size="10.8" fill="#000" stroke="#000" stroke-width="0.22" text-anchor="end" >0.0</text>
<text x="762" y="442.2" font-size="10.8" fill="#ff8c00" stroke="#ff8c00" stroke-width="0.22" text-anchor="start" >100</text>
<text x="762" y="461.9" font-size="10.8" fill="#ff8c00" stroke="#ff8c00" stroke-width="0.22" text-anchor="start" >20</text>
<text x="762" y="481.6" font-size="10.8" fill="#ff8c00" stroke="#ff8c00" stroke-width="0.22" text-anchor="start" >5</text>
<text x="762" y="501.3" font-size="10.8" fill="#ff8c00" stroke="#ff8c00" stroke-width="0.22" text-anchor="start" >1</text>
<text x="762" y="520.4" font-size="10.8" fill="#ff8c00" stroke="#ff8c00" stroke-width="0.22" text-anchor="start" >0</text>
<text transform="translate(292.2,474) rotate(-90)" font-size="12.5" fill="#0c0c84" stroke="#0c0c84" stroke-width="0.22" text-anchor="middle">pion. rozciągł. chm.</text>
<text transform="translate(306,474.5) rotate(-90)" font-size="12.2" fill="#0c0c84" stroke="#0c0c84" stroke-width="0.22" text-anchor="middle">(km)</text>
<text transform="translate(803.2,474) rotate(-90)" font-size="12.2" fill="#0c0c84" stroke="#0c0c84" stroke-width="0.22" text-anchor="middle">(km)</text>
<text transform="translate(815,474) rotate(-90)" font-size="12.2" fill="#0c0c84" stroke="#0c0c84" stroke-width="0.22" text-anchor="middle">widzialność</text>
<clipPath id="cC"><rect x="343" y="526" width="414" height="77"/></clipPath>
<g clip-path="url(#cC)">
<rect x="343" y="525" width="414" height="78" fill="#80c3ec" />
<rect x="426" y="525" width="52" height="78" fill="#87d1fa" />
<rect x="595" y="525" width="52" height="78" fill="#87d1fa" />
<polygon points="342.7,604.0 342.7,577.7 349.4,572.0 356.4,581.4 363.5,570.3 370.6,569.6 377.6,575.0 384.3,570.7 391.6,604.0 425.0,604.0 430.0,602.0 440.0,601.5 450.0,604.0 470.0,604.0 520.0,604.0 540.0,604.0 556.0,604.0 562.0,590.0 566.5,526.5 572.4,529.0 580.9,571.0 588.0,603.0 595.8,595.0 603.7,534.8 609.0,526.7 617.0,560.2 623.5,526.7 630.5,542.8 637.9,591.8 644.6,581.7 651.6,556.2 655.0,571.0 659.0,585.7 666.4,595.1 673.4,595.8 680.5,581.7 687.2,593.8 694.6,593.1 701.3,535.4 708.7,550.9 715.4,561.6 722.7,583.0 729.5,604.0 757.6,604.0 757.6,604.0" fill="#ffffff" shape-rendering="auto"/>
<polygon points="342.7,604.0 342.7,573.0 349.4,566.3 356.4,576.3 363.5,585.5 377.6,565.6 384.3,558.9 391.6,604.0 440.0,604.0 448.0,604.0 455.0,528.0 462.4,604.0 476.0,604.0 483.2,546.8 490.6,595.1 504.0,532.0 511.4,604.0 518.5,601.0 525.5,553.0 532.5,565.0 538.9,532.0 546.3,568.2 552.8,568.2 558.0,561.7 562.0,545.0 567.4,528.0 574.0,532.0 580.9,562.0 588.9,601.0 596.0,580.0 603.7,530.0 610.0,527.0 616.0,528.0 623.5,526.7 630.5,533.4 637.5,544.0 644.6,533.4 651.6,544.0 655.0,554.9 659.0,571.6 666.4,571.0 673.4,593.1 680.5,562.9 687.2,557.8 694.6,560.2 701.3,541.5 708.7,546.2 715.4,541.5 722.7,560.2 729.5,585.7 736.6,590.4 743.5,599.1 750.5,600.5 757.6,589.8 757.6,604.0" fill="#9a9a9a" shape-rendering="auto"/>
<polygon points="342.7,604.0 342.7,547.5 350.0,564.3 356.4,556.2 363.5,582.0 370.6,555.5 377.6,564.3 384.3,540.1 388.3,538.1 395.0,535.4 398.6,534.8 405.7,536.8 412.7,533.4 419.8,531.8 426.8,530.5 433.9,531.8 440.9,528.0 445.0,529.1 449.0,529.7 455.0,527.4 462.4,560.2 469.1,552.9 476.1,571.6 483.2,542.1 490.6,584.4 504.0,530.7 511.4,601.8 518.5,600.5 525.5,557.0 532.5,568.0 538.9,531.4 546.5,567.0 555.0,542.8 560.0,531.0 567.4,528.0 574.0,530.0 580.9,562.0 588.9,601.8 596.0,585.0 602.6,529.4 609.0,527.0 616.0,528.0 623.5,535.0 630.5,548.0 637.5,566.0 644.6,588.0 651.6,600.0 655.0,585.0 659.0,590.0 666.4,583.0 673.4,598.0 680.5,580.0 687.2,564.3 694.6,584.4 701.3,586.0 708.7,598.0 715.4,595.0 722.7,587.1 729.5,588.0 736.6,589.1 743.5,599.0 750.5,603.0 757.6,603.0 757.6,604.0" fill="#5a5a5a" shape-rendering="auto"/>
<polygon points="342.7,604.0 342.7,603.0 370.0,601.0 380.0,603.0 391.6,602.0 404.4,581.7 412.4,580.4 419.8,585.7 433.9,595.1 447.3,597.1 455.0,596.5 462.0,603.0 476.0,603.0 483.2,592.4 490.6,600.0 497.0,560.0 504.0,531.0 511.4,603.0 525.5,603.0 532.0,580.0 538.9,531.4 546.5,585.0 555.0,560.0 560.0,540.0 567.4,528.0 574.0,530.0 580.9,562.0 588.9,601.8 596.0,585.0 602.6,529.4 609.0,527.0 616.0,528.0 623.5,535.0 630.5,548.0 637.5,566.0 644.6,588.0 651.6,601.0 658.0,603.0 666.4,586.0 673.4,600.0 680.5,590.0 687.2,570.0 694.6,590.0 701.3,595.0 715.0,600.0 722.7,590.0 736.6,595.0 745.0,603.0 757.6,603.0 757.6,604.0" fill="#383838" shape-rendering="auto"/>
<polyline points="342.7,573.0 349.4,566.3 356.4,576.3 363.5,585.5 377.6,565.6 384.3,558.9 391.6,604.0 440.0,604.0 448.0,604.0 455.0,528.0 462.4,604.0 476.0,604.0 483.2,546.8 490.6,595.1 504.0,532.0 511.4,604.0 518.5,601.0 525.5,553.0 532.5,565.0 538.9,532.0 546.3,568.2 552.8,568.2 558.0,561.7 562.0,545.0 567.4,528.0 574.0,532.0 580.9,562.0 588.9,601.0 596.0,580.0 603.7,530.0 610.0,527.0 616.0,528.0 623.5,526.7 630.5,533.4 637.5,544.0 644.6,533.4 651.6,544.0 655.0,554.9 659.0,571.6 666.4,571.0 673.4,593.1 680.5,562.9 687.2,557.8 694.6,560.2 701.3,541.5 708.7,546.2 715.4,541.5 722.7,560.2 729.5,585.7 736.6,590.4 743.5,599.1 750.5,600.5 757.6,589.8" fill="none" stroke="#a8a8a8" stroke-width="1.2" stroke-linejoin="round" shape-rendering="auto"/>
<polyline points="342.7,577.7 349.4,572.0 356.4,581.4 363.5,570.3 370.6,569.6 377.6,575.0 384.3,570.7 391.6,604.0 425.0,604.0 430.0,602.0 440.0,601.5 450.0,604.0 470.0,604.0 520.0,604.0 540.0,604.0 556.0,604.0 562.0,590.0 566.5,526.5 572.4,529.0 580.9,571.0 588.0,603.0 595.8,595.0 603.7,534.8 609.0,526.7 617.0,560.2 623.5,526.7 630.5,542.8 637.9,591.8 644.6,581.7 651.6,556.2 655.0,571.0 659.0,585.7 666.4,595.1 673.4,595.8 680.5,581.7 687.2,593.8 694.6,593.1 701.3,535.4 708.7,550.9 715.4,561.6 722.7,583.0 729.5,604.0 757.6,604.0" fill="none" stroke="#ffffff" stroke-width="1.3" stroke-linejoin="round" shape-rendering="auto"/>
<rect x="503" y="526" width="3" height="77" fill="#ffba00" />
<rect x="538" y="526" width="3" height="77" fill="#ffba00" />
<rect x="559" y="526" width="3" height="77" fill="#ffba00" />
<rect x="566" y="526" width="3" height="77" fill="#ffba00" />
<rect x="573" y="526" width="3" height="77" fill="#ffba00" />
<rect x="601" y="526" width="3" height="77" fill="#ffba00" />
<rect x="608" y="526" width="3" height="77" fill="#ffba00" />
<rect x="615" y="526" width="3" height="77" fill="#ffba00" />
<rect x="629" y="526" width="3" height="77" fill="#ffba00" />
<line x1="343" y1="545.5" x2="757" y2="545.5" stroke="#000" stroke-width="1" stroke-dasharray="2 2"/>
<line x1="343" y1="564.5" x2="757" y2="564.5" stroke="#000" stroke-width="1" stroke-dasharray="2 2"/>
<line x1="343" y1="584.5" x2="757" y2="584.5" stroke="#000" stroke-width="1" stroke-dasharray="2 2"/>
<line x1="356.5" y1="526" x2="356.5" y2="603" stroke="#000" stroke-width="1" stroke-dasharray="2 2"/>
<line x1="377.5" y1="526" x2="377.5" y2="603" stroke="#000" stroke-width="1" stroke-dasharray="2 2"/>
<line x1="398.5" y1="526" x2="398.5" y2="603" stroke="#000" stroke-width="1" stroke-dasharray="2 2"/>
<line x1="419.5" y1="526" x2="419.5" y2="603" stroke="#000" stroke-width="1" stroke-dasharray="2 2"/>
<line x1="440.5" y1="526" x2="440.5" y2="603" stroke="#000" stroke-width="1" stroke-dasharray="2 2"/>
<line x1="462.5" y1="526" x2="462.5" y2="603" stroke="#000" stroke-width="1" stroke-dasharray="2 2"/>
<line x1="483.5" y1="526" x2="483.5" y2="603" stroke="#000" stroke-width="1" stroke-dasharray="2 2"/>
<line x1="504.5" y1="526" x2="504.5" y2="603" stroke="#000" stroke-width="1" stroke-dasharray="2 2"/>
<line x1="525.5" y1="526" x2="525.5" y2="603" stroke="#000" stroke-width="1" stroke-dasharray="2 2"/>
<line x1="546.5" y1="526" x2="546.5" y2="603" stroke="#000" stroke-width="1" stroke-dasharray="2 2"/>
<line x1="567.5" y1="526" x2="567.5" y2="603" stroke="#000" stroke-width="1" stroke-dasharray="2 2"/>
<line x1="588.5" y1="526" x2="588.5" y2="603" stroke="#000" stroke-width="1" stroke-dasharray="2 2"/>
<line x1="609.5" y1="526" x2="609.5" y2="603" stroke="#000" stroke-width="1" stroke-dasharray="2 2"/>
<line x1="630.5" y1="526" x2="630.5" y2="603" stroke="#000" stroke-width="1" stroke-dasharray="2 2"/>
<line x1="652.5" y1="526" x2="652.5" y2="603" stroke="#000" stroke-width="1" stroke-dasharray="2 2"/>
<line x1="673.5" y1="526" x2="673.5" y2="603" stroke="#000" stroke-width="1" stroke-dasharray="2 2"/>
<line x1="694.5" y1="526" x2="694.5" y2="603" stroke="#000" stroke-width="1" stroke-dasharray="2 2"/>
<line x1="715.5" y1="526" x2="715.5" y2="603" stroke="#000" stroke-width="1" stroke-dasharray="2 2"/>
<line x1="736.5" y1="526" x2="736.5" y2="603" stroke="#000" stroke-width="1" stroke-dasharray="2 2"/>
</g>
<rect x="342.5" y="525.5" width="415" height="78" fill="none" stroke="#000" stroke-width="1"/>
<line x1="343" y1="604.5" x2="757" y2="604.5" stroke="#8fcdf0" stroke-width="1" />
<text x="337.5" y="530" font-size="10.8" fill="#000" stroke="#000" stroke-width="0.22" text-anchor="end" >8</text>
<text x="337.5" y="549.5" font-size="10.8" fill="#000" stroke="#000" stroke-width="0.22" text-anchor="end" >6</text>
<text x="337.5" y="569" font-size="10.8" fill="#000" stroke="#000" stroke-width="0.22" text-anchor="end" >4</text>
<text x="337.5" y="588" font-size="10.8" fill="#000" stroke="#000" stroke-width="0.22" text-anchor="end" >2</text>
<text x="331.5" y="607.5" font-size="10.8" fill="#000" stroke="#000" stroke-width="0.22" text-anchor="start" >0</text>
<text x="762" y="530" font-size="10.8" fill="#ff8c00" stroke="#ff8c00" stroke-width="0.22" text-anchor="start" >1</text>
<text x="762" y="548.8" font-size="10.8" fill="#ff8c00" stroke="#ff8c00" stroke-width="0.22" text-anchor="start" >0.75</text>
<text x="762" y="568.8" font-size="10.8" fill="#ff8c00" stroke="#ff8c00" stroke-width="0.22" text-anchor="start" >0.5</text>
<text x="762" y="587.6" font-size="10.8" fill="#ff8c00" stroke="#ff8c00" stroke-width="0.22" text-anchor="start" >0.25</text>
<text x="762" y="607.5" font-size="10.8" fill="#ff8c00" stroke="#ff8c00" stroke-width="0.22" text-anchor="start" >0</text>
<text transform="translate(292.2,572) rotate(-90)" font-size="12.2" fill="#0c0c84" stroke="#0c0c84" stroke-width="0.22" text-anchor="middle">zachmurzenie</text>
<text transform="translate(306,563) rotate(-90)" font-size="12.2" fill="#0c0c84" stroke="#0c0c84" stroke-width="0.22" text-anchor="middle">(oktanty)</text>
<text transform="translate(803.2,562) rotate(-90)" font-size="12.2" fill="#0c0c84" stroke="#0c0c84" stroke-width="0.22" text-anchor="middle">(frakcja)</text>
<text transform="translate(815,562) rotate(-90)" font-size="12.2" fill="#0c0c84" stroke="#0c0c84" stroke-width="0.22" text-anchor="middle">mgła</text>
<rect x="170" y="30" width="62" height="598" fill="#edf2fd" />
<text x="163.7" y="51.5" font-size="12.3" fill="#000" stroke="#000" stroke-width="0.22" text-anchor="middle" >20</text>
<text x="204.5" y="51.5" font-size="12.3" fill="#000" stroke="#000" stroke-width="0.22" text-anchor="middle" >02</text>
<text x="244.6" y="51.5" font-size="12.3" fill="#000" stroke="#000" stroke-width="0.22" text-anchor="middle" >08</text>
<text x="163.7" y="613.8" font-size="12.3" fill="#000" stroke="#000" stroke-width="0.22" text-anchor="middle" >18</text>
<text x="204.5" y="613.8" font-size="12.3" fill="#000" stroke="#000" stroke-width="0.22" text-anchor="middle" >00</text>
<text x="244.9" y="613.8" font-size="12.3" fill="#000" stroke="#000" stroke-width="0.22" text-anchor="middle" >06</text>
<clipPath id="lcT"><rect x="136" y="58" width="109" height="76"/></clipPath>
<g clip-path="url(#lcT)">
<rect x="136" y="58" width="34" height="77" fill="#ffffff" />
<rect x="170" y="58" width="62" height="77" fill="#edf2fd" />
<rect x="232" y="58" width="14" height="77" fill="#ffffff" />
<rect x="136" y="111" width="110" height="23" fill="#87d1fa" />
<rect x="170" y="111" width="62" height="23" fill="#80c3ec" />
<polygon points="135.6,97.6 142.4,98.0 149.0,100.0 156.3,102.7 163.7,105.3 171.0,106.3 178.3,108.5 184.9,109.3 191.5,111.5 198.8,113.2 205.8,113.7 212.7,113.2 219.3,110.7 226.6,114.4 232.4,117.3 240.5,110.7 245.0,110.3 245.0,124.0 232.4,131.0 226.6,130.0 219.3,126.0 205.8,125.0 184.9,120.0 163.7,116.0 135.6,111.0" fill="#b3e1fa" shape-rendering="auto"/>
<polygon points="135.6,88.0 142.4,90.0 156.3,96.0 171.0,103.0 184.9,105.5 205.8,107.0 226.6,107.5 240.5,105.0 245.0,104.0 245.0,118.0 233.2,127.0 226.6,127.0 219.3,126.0 205.8,124.0 184.9,118.0 171.0,113.0 156.3,106.0 135.6,101.0" fill="#fde6de" shape-rendering="auto"/>
<line x1="142.5" y1="69.6" x2="142.5" y2="98.9" stroke="#b22222" stroke-width="1" />
<line x1="149.5" y1="77.7" x2="149.5" y2="93" stroke="#b22222" stroke-width="1" />
<line x1="156.5" y1="87.2" x2="156.5" y2="98.9" stroke="#b22222" stroke-width="1" />
<line x1="164.5" y1="96.5" x2="164.5" y2="106.2" stroke="#b22222" stroke-width="1" />
<line x1="171.5" y1="101" x2="171.5" y2="114" stroke="#b22222" stroke-width="1" />
<line x1="178.5" y1="103" x2="178.5" y2="118" stroke="#b22222" stroke-width="1" />
<line x1="184.5" y1="105" x2="184.5" y2="120.5" stroke="#b22222" stroke-width="1" />
<line x1="191.5" y1="107" x2="191.5" y2="123" stroke="#b22222" stroke-width="1" />
<line x1="198.5" y1="108.5" x2="198.5" y2="125" stroke="#b22222" stroke-width="1" />
<line x1="205.5" y1="110" x2="205.5" y2="127.5" stroke="#b22222" stroke-width="1" />
<line x1="212.5" y1="109.5" x2="212.5" y2="129.5" stroke="#b22222" stroke-width="1" />
<line x1="219.5" y1="110.5" x2="219.5" y2="130" stroke="#b22222" stroke-width="1" />
<line x1="226.5" y1="111.5" x2="226.5" y2="132.5" stroke="#b22222" stroke-width="1" />
<line x1="232.5" y1="111.5" x2="232.5" y2="132" stroke="#b22222" stroke-width="1" />
<line x1="239.5" y1="106" x2="239.5" y2="119" stroke="#b22222" stroke-width="1" />
<polyline points="135.6,98.9 142.4,98.9 149.0,100.3 156.3,103.3 163.7,106.2 171.0,110.6 178.3,112.1 184.9,112.8 191.5,113.2 198.8,112.8 205.8,113.2 212.7,114.3 219.3,115.0 226.6,116.5 233.2,119.1 240.5,114.3 245.0,111.3" fill="none" stroke="#ff0000" stroke-width="2.2" stroke-linejoin="round" shape-rendering="auto"/>
<polyline points="135.6,102.6 142.4,103.0 149.0,105.0 156.3,107.7 163.7,110.3 171.0,111.3 178.3,113.5 184.9,114.3 191.5,116.5 198.8,118.2 205.8,118.7 212.7,118.2 219.3,115.7 226.6,119.4 232.4,122.3 240.5,115.7 245.0,115.3" fill="none" stroke="#0000ff" stroke-width="2.2" stroke-linejoin="round" shape-rendering="auto"/>
<rect x="141" y="113" width="3" height="3" fill="#6a5acd" />
<rect x="148" y="113" width="3" height="3" fill="#6a5acd" />
<rect x="155" y="113" width="3" height="3" fill="#6a5acd" />
<rect x="163" y="113" width="3" height="3" fill="#6a5acd" />
<rect x="170" y="113" width="3" height="3" fill="#6a5acd" />
<rect x="219" y="119" width="3" height="3" fill="#6a5acd" />
<rect x="225" y="119" width="3" height="3" fill="#6a5acd" />
<rect x="239" y="118" width="3" height="3" fill="#6a5acd" />
<line x1="136" y1="59.5" x2="245" y2="59.5" stroke="#000" stroke-width="1" stroke-dasharray="2 2"/>
<line x1="136" y1="77.5" x2="245" y2="77.5" stroke="#000" stroke-width="1" stroke-dasharray="2 2"/>
<line x1="136" y1="94.5" x2="245" y2="94.5" stroke="#000" stroke-width="1" stroke-dasharray="2 2"/>
<line x1="136" y1="111.5" x2="245" y2="111.5" stroke="#000" stroke-width="1" stroke-dasharray="2 2"/>
<line x1="136" y1="129.5" x2="245" y2="129.5" stroke="#000" stroke-width="1" stroke-dasharray="2 2"/>
<line x1="142.5" y1="58" x2="142.5" y2="134" stroke="#000" stroke-width="1" stroke-dasharray="2 2"/>
<line x1="163.5" y1="58" x2="163.5" y2="134" stroke="#000" stroke-width="1" stroke-dasharray="2 2"/>
<line x1="184.5" y1="58" x2="184.5" y2="134" stroke="#000" stroke-width="1" stroke-dasharray="2 2"/>
<line x1="205.5" y1="58" x2="205.5" y2="134" stroke="#000" stroke-width="1" stroke-dasharray="2 2"/>
<line x1="226.5" y1="58" x2="226.5" y2="134" stroke="#000" stroke-width="1" stroke-dasharray="2 2"/>
</g>
<rect x="135.5" y="57.5" width="110" height="77" fill="none" stroke="#000" stroke-width="1"/>
<text x="128.5" y="63.3" font-size="10.6" fill="#000" stroke="#000" stroke-width="0.22" text-anchor="end" >30</text>
<text x="254" y="63.3" font-size="10.6" fill="#000" stroke="#000" stroke-width="0.22" text-anchor="start" >30</text>
<text x="128.5" y="81.2" font-size="10.6" fill="#000" stroke="#000" stroke-width="0.22" text-anchor="end" >20</text>
<text x="254" y="81.2" font-size="10.6" fill="#000" stroke="#000" stroke-width="0.22" text-anchor="start" >20</text>
<text x="128.5" y="98.4" font-size="10.6" fill="#000" stroke="#000" stroke-width="0.22" text-anchor="end" >10</text>
<text x="254" y="98.4" font-size="10.6" fill="#000" stroke="#000" stroke-width="0.22" text-anchor="start" >10</text>
<text x="128.5" y="115.6" font-size="10.6" fill="#000" stroke="#000" stroke-width="0.22" text-anchor="end" >0</text>
<text x="254" y="115.6" font-size="10.6" fill="#000" stroke="#000" stroke-width="0.22" text-anchor="start" >0</text>
<text x="128.5" y="133.1" font-size="10.6" fill="#000" stroke="#000" stroke-width="0.22" text-anchor="end" >-10</text>
<text x="254" y="133.1" font-size="10.6" fill="#000" stroke="#000" stroke-width="0.22" text-anchor="start" >-10</text>
<clipPath id="lcP"><rect x="136" y="144" width="109" height="76"/></clipPath>
<g clip-path="url(#lcP)">
<rect x="136" y="144" width="34" height="77" fill="#ffffff" />
<rect x="170" y="144" width="62" height="77" fill="#edf2fd" />
<rect x="232" y="144" width="14" height="77" fill="#ffffff" />
<rect x="136" y="187" width="7.5" height="33" fill="#00a000" />
<rect x="143.5" y="181.5" width="5.5" height="38.5" fill="#00a000" />
<rect x="149" y="179.2" width="8" height="40.80000000000001" fill="#00a000" />
<rect x="157" y="202.3" width="7.699999999999989" height="17.69999999999999" fill="#00a000" />
<rect x="164.7" y="207.7" width="5.100000000000023" height="12.300000000000011" fill="#00a000" />
<rect x="169.8" y="218.1" width="7.199999999999989" height="1.9000000000000057" fill="#00a000" />
<rect x="157" y="182" width="7" height="19.6" fill="#1030d0" />
<rect x="164" y="205" width="6" height="2.7" fill="#1030d0" />
<line x1="139.5" y1="165" x2="139.5" y2="187" stroke="#00c000" stroke-width="1" />
<line x1="146.5" y1="147" x2="146.5" y2="181.5" stroke="#00c000" stroke-width="1" />
<line x1="153.5" y1="147" x2="153.5" y2="179.2" stroke="#00c000" stroke-width="1" />
<line x1="160.5" y1="171.6" x2="160.5" y2="183.3" stroke="#1030d0" stroke-width="1" />
<line x1="136" y1="150.5" x2="245" y2="150.5" stroke="#000" stroke-width="1" stroke-dasharray="2 2"/>
<line x1="136" y1="168.5" x2="245" y2="168.5" stroke="#000" stroke-width="1" stroke-dasharray="2 2"/>
<line x1="136" y1="185.5" x2="245" y2="185.5" stroke="#000" stroke-width="1" stroke-dasharray="2 2"/>
<line x1="136" y1="203.5" x2="245" y2="203.5" stroke="#000" stroke-width="1" stroke-dasharray="2 2"/>
<line x1="143.5" y1="144" x2="143.5" y2="220" stroke="#000" stroke-width="1" stroke-dasharray="2 2"/>
<line x1="164.5" y1="144" x2="164.5" y2="220" stroke="#000" stroke-width="1" stroke-dasharray="2 2"/>
<line x1="184.5" y1="144" x2="184.5" y2="220" stroke="#000" stroke-width="1" stroke-dasharray="2 2"/>
<line x1="204.5" y1="144" x2="204.5" y2="220" stroke="#000" stroke-width="1" stroke-dasharray="2 2"/>
<line x1="225.5" y1="144" x2="225.5" y2="220" stroke="#000" stroke-width="1" stroke-dasharray="2 2"/>
<polyline points="136.0,171.5 138.8,170.9 143.5,168.4 150.5,158.4 157.1,154.8 164.7,152.6 175.0,152.6 184.6,152.6 191.5,148.9 198.8,148.9 204.6,154.0 212.0,156.2 219.3,152.6 225.4,149.6 232.4,151.1 239.8,156.2 245.6,165.0" fill="none" stroke="#e8501e" stroke-width="2.2" stroke-linejoin="round" shape-rendering="auto"/>
<rect x="145" y="146" width="3" height="3" fill="#ff0000" />
<rect x="152" y="146" width="3" height="3" fill="#ff0000" />
<circle cx="139.5" cy="173.3" r="2.3" fill="#ffee00" stroke="#6a4a00" stroke-width="0.7" shape-rendering="auto"/>
<circle cx="146.5" cy="173.3" r="2.3" fill="#ffaa00" stroke="#6a4a00" stroke-width="0.7" shape-rendering="auto"/>
<circle cx="153.5" cy="173.3" r="2.3" fill="#ff0000" stroke="#6a4a00" stroke-width="0.7" shape-rendering="auto"/>
</g>
<rect x="135.5" y="143.5" width="110" height="77" fill="none" stroke="#000" stroke-width="1"/>
<rect x="138" y="219" width="4" height="1" fill="#ff0000" />
<rect x="146" y="219" width="4" height="1" fill="#ff0000" />
<rect x="153" y="219" width="4" height="1" fill="#ff0000" />
<rect x="160" y="219" width="4" height="1" fill="#ff0000" />
<text x="128.5" y="154.4" font-size="10.6" fill="#000" stroke="#000" stroke-width="0.22" text-anchor="end" >2.0</text>
<text x="128.5" y="172.4" font-size="10.6" fill="#000" stroke="#000" stroke-width="0.22" text-anchor="end" >1.5</text>
<text x="128.5" y="189.5" font-size="10.6" fill="#000" stroke="#000" stroke-width="0.22" text-anchor="end" >1.0</text>
<text x="128.5" y="207" font-size="10.6" fill="#000" stroke="#000" stroke-width="0.22" text-anchor="end" >0.5</text>
<text x="128.5" y="223.9" font-size="10.6" fill="#000" stroke="#000" stroke-width="0.22" text-anchor="end" >0.0</text>
<text x="254" y="154.3" font-size="10.6" fill="#e8501e" stroke="#e8501e" stroke-width="0.22" text-anchor="start" >96</text>
<text x="254" y="172.2" font-size="10.6" fill="#e8501e" stroke="#e8501e" stroke-width="0.22" text-anchor="start" >84</text>
<text x="254" y="189.3" font-size="10.6" fill="#e8501e" stroke="#e8501e" stroke-width="0.22" text-anchor="start" >73</text>
<text x="254" y="206.7" font-size="10.6" fill="#e8501e" stroke="#e8501e" stroke-width="0.22" text-anchor="start" >61</text>
<text x="254" y="223.7" font-size="10.6" fill="#e8501e" stroke="#e8501e" stroke-width="0.22" text-anchor="start" >50</text>
<clipPath id="lcR"><rect x="136" y="230" width="109" height="76"/></clipPath>
<g clip-path="url(#lcR)">
<rect x="136" y="230" width="34" height="77" fill="#ffffff" />
<rect x="170" y="230" width="62" height="77" fill="#edf2fd" />
<rect x="232" y="230" width="14" height="77" fill="#ffffff" />
<polygon points="135.5,306.0 135.5,261.6 142.9,260.0 150.7,253.2 158.5,249.3 164.4,249.3 170.2,245.4 178.0,248.3 185.9,250.2 191.7,253.6 205.4,253.6 224.9,254.1 232.7,257.1 245.4,264.9 245.4,306.0" fill="#ffff00" shape-rendering="auto"/>
<clipPath id="lcR2"><polygon points="135.5,306.0 135.5,261.6 142.9,260.0 150.7,253.2 158.5,249.3 164.4,249.3 170.2,245.4 178.0,248.3 185.9,250.2 191.7,253.6 205.4,253.6 224.9,254.1 232.7,257.1 245.4,264.9 245.4,306.0"/></clipPath>
<g clip-path="url(#lcR2)">
<rect x="164" y="240" width="6" height="70" fill="#ffd800" />
</g>
<polyline points="135.5,261.6 142.9,260.0 150.7,253.2 158.5,249.3 164.4,249.3 170.2,245.4 178.0,248.3 185.9,250.2 191.7,253.6 205.4,253.6 224.9,254.1 232.7,257.1 245.4,264.9" fill="none" stroke="#000" stroke-width="2.2" stroke-linejoin="round" shape-rendering="auto"/>
<line x1="136" y1="231.5" x2="245" y2="231.5" stroke="#000" stroke-width="1" stroke-dasharray="2 2"/>
<line x1="136" y1="254.5" x2="245" y2="254.5" stroke="#000" stroke-width="1" stroke-dasharray="2 2"/>
<line x1="136" y1="278.5" x2="245" y2="278.5" stroke="#000" stroke-width="1" stroke-dasharray="2 2"/>
<line x1="136" y1="301.5" x2="245" y2="301.5" stroke="#000" stroke-width="1" stroke-dasharray="2 2"/>
<line x1="143.5" y1="230" x2="143.5" y2="306" stroke="#000" stroke-width="1" stroke-dasharray="2 2"/>
<line x1="164.5" y1="230" x2="164.5" y2="306" stroke="#000" stroke-width="1" stroke-dasharray="2 2"/>
<line x1="184.5" y1="230" x2="184.5" y2="306" stroke="#000" stroke-width="1" stroke-dasharray="2 2"/>
<line x1="204.5" y1="230" x2="204.5" y2="306" stroke="#000" stroke-width="1" stroke-dasharray="2 2"/>
<line x1="225.5" y1="230" x2="225.5" y2="306" stroke="#000" stroke-width="1" stroke-dasharray="2 2"/>
</g>
<rect x="135.5" y="229.5" width="110" height="77" fill="none" stroke="#000" stroke-width="1"/>
<text x="128.5" y="235.1" font-size="10.6" fill="#000" stroke="#000" stroke-width="0.22" text-anchor="end" >1018</text>
<text x="251" y="235.1" font-size="10.6" fill="#000" stroke="#000" stroke-width="0.22" text-anchor="start" >1018</text>
<text x="128.5" y="258.1" font-size="10.6" fill="#000" stroke="#000" stroke-width="0.22" text-anchor="end" >1016</text>
<text x="251" y="258.1" font-size="10.6" fill="#000" stroke="#000" stroke-width="0.22" text-anchor="start" >1016</text>
<text x="128.5" y="282.1" font-size="10.6" fill="#000" stroke="#000" stroke-width="0.22" text-anchor="end" >1014</text>
<text x="251" y="282.1" font-size="10.6" fill="#000" stroke="#000" stroke-width="0.22" text-anchor="start" >1014</text>
<text x="128.5" y="305" font-size="10.6" fill="#000" stroke="#000" stroke-width="0.22" text-anchor="end" >1012</text>
<text x="251" y="305" font-size="10.6" fill="#000" stroke="#000" stroke-width="0.22" text-anchor="start" >1012</text>
<clipPath id="lcV"><rect x="136" y="316" width="109" height="76"/></clipPath>
<g clip-path="url(#lcV)">
<rect x="136" y="316" width="34" height="77" fill="#ffffff" />
<rect x="170" y="316" width="62" height="77" fill="#edf2fd" />
<rect x="232" y="316" width="14" height="77" fill="#ffffff" />
<clipPath id="lcV2"><polygon points="135.5,393.0 135.5,364.5 142.9,368.4 150.7,371.0 164.4,373.3 178.0,376.2 184.0,376.2 197.6,372.9 211.2,372.9 224.9,372.9 232.7,370.4 245.4,369.4 245.6,393.0"/></clipPath>
<g clip-path="url(#lcV2)">
<rect x="135" y="360" width="13" height="40" fill="#22cc22" />
<rect x="148" y="360" width="21" height="40" fill="#087808" />
<rect x="169" y="360" width="29" height="40" fill="#0b4a8a" />
<rect x="198" y="360" width="13" height="40" fill="#087808" />
<rect x="211" y="360" width="14" height="40" fill="#0b4a8a" />
<rect x="225" y="360" width="14" height="40" fill="#087808" />
<rect x="239" y="360" width="7" height="40" fill="#22cc22" />
</g>
<polyline points="135.5,364.5 142.9,368.4 150.7,371.0 164.4,373.3 178.0,376.2 184.0,376.2 197.6,372.9 211.2,372.9 224.9,372.9 232.7,370.4 245.4,369.4" fill="none" stroke="#000099" stroke-width="2.2" stroke-linejoin="round" shape-rendering="auto"/>
<line x1="143" y1="340.5" x2="149" y2="340.5" stroke="#ff0000" stroke-width="1" />
<line x1="148" y1="347.5" x2="157" y2="347.5" stroke="#ff0000" stroke-width="1" />
<line x1="157" y1="348.5" x2="163" y2="348.5" stroke="#ff0000" stroke-width="1" />
<line x1="163" y1="351.5" x2="170" y2="351.5" stroke="#ff0000" stroke-width="1" />
<line x1="170" y1="355.5" x2="177" y2="355.5" stroke="#ff0000" stroke-width="1" />
<line x1="176" y1="358.5" x2="185" y2="358.5" stroke="#ff0000" stroke-width="1" />
<line x1="184" y1="354.5" x2="191" y2="354.5" stroke="#ff0000" stroke-width="1" />
<line x1="191" y1="351.5" x2="198" y2="351.5" stroke="#ff0000" stroke-width="1" />
<line x1="198" y1="350.5" x2="211" y2="350.5" stroke="#ff0000" stroke-width="1" />
<line x1="211" y1="351.5" x2="225" y2="351.5" stroke="#ff0000" stroke-width="1" />
<line x1="225" y1="347.5" x2="233" y2="347.5" stroke="#ff0000" stroke-width="1" />
<line x1="233" y1="342.5" x2="245" y2="342.5" stroke="#ff0000" stroke-width="1" />
<line x1="136" y1="334.5" x2="245" y2="334.5" stroke="#000" stroke-width="1" stroke-dasharray="2 2"/>
<line x1="136" y1="354.5" x2="245" y2="354.5" stroke="#000" stroke-width="1" stroke-dasharray="2 2"/>
<line x1="136" y1="373.5" x2="245" y2="373.5" stroke="#000" stroke-width="1" stroke-dasharray="2 2"/>
<line x1="143.5" y1="316" x2="143.5" y2="392" stroke="#000" stroke-width="1" stroke-dasharray="2 2"/>
<line x1="164.5" y1="316" x2="164.5" y2="392" stroke="#000" stroke-width="1" stroke-dasharray="2 2"/>
<line x1="184.5" y1="316" x2="184.5" y2="392" stroke="#000" stroke-width="1" stroke-dasharray="2 2"/>
<line x1="204.5" y1="316" x2="204.5" y2="392" stroke="#000" stroke-width="1" stroke-dasharray="2 2"/>
<line x1="225.5" y1="316" x2="225.5" y2="392" stroke="#000" stroke-width="1" stroke-dasharray="2 2"/>
</g>
<circle cx="138.6" cy="317.3" r="1.6" fill="#ff0000" shape-rendering="auto"/>
<rect x="135.5" y="315.5" width="110" height="77" fill="none" stroke="#000" stroke-width="1"/>
<text x="128.5" y="319.7" font-size="10.6" fill="#000" stroke="#000" stroke-width="0.22" text-anchor="end" >20</text>
<text x="128.5" y="338.3" font-size="10.6" fill="#000" stroke="#000" stroke-width="0.22" text-anchor="end" >15</text>
<text x="128.5" y="358.2" font-size="10.6" fill="#000" stroke="#000" stroke-width="0.22" text-anchor="end" >10</text>
<text x="128.5" y="376.9" font-size="10.6" fill="#000" stroke="#000" stroke-width="0.22" text-anchor="end" >5</text>
<text x="128.5" y="395.8" font-size="10.6" fill="#000" stroke="#000" stroke-width="0.22" text-anchor="end" >0</text>
<text x="254" y="319.7" font-size="10.6" fill="#000" stroke="#000" stroke-width="0.22" text-anchor="start" >72</text>
<text x="254" y="338.3" font-size="10.6" fill="#000" stroke="#000" stroke-width="0.22" text-anchor="start" >54</text>
<text x="254" y="358.2" font-size="10.6" fill="#000" stroke="#000" stroke-width="0.22" text-anchor="start" >36</text>
<text x="254" y="376.9" font-size="10.6" fill="#000" stroke="#000" stroke-width="0.22" text-anchor="start" >18</text>
<text x="254" y="395.8" font-size="10.6" fill="#000" stroke="#000" stroke-width="0.22" text-anchor="start" >0</text>
<line x1="143.5" y1="399" x2="143.5" y2="430" stroke="#000" stroke-width="1" stroke-dasharray="2 2"/>
<line x1="164.5" y1="399" x2="164.5" y2="430" stroke="#000" stroke-width="1" stroke-dasharray="2 2"/>
<line x1="184.5" y1="399" x2="184.5" y2="430" stroke="#000" stroke-width="1" stroke-dasharray="2 2"/>
<line x1="204.5" y1="399" x2="204.5" y2="430" stroke="#000" stroke-width="1" stroke-dasharray="2 2"/>
<line x1="225.5" y1="399" x2="225.5" y2="430" stroke="#000" stroke-width="1" stroke-dasharray="2 2"/>
<clipPath id="lcD"><rect x="136" y="399" width="118" height="31"/></clipPath>
<g clip-path="url(#lcD)" shape-rendering="auto">
<line x1="132.9" y1="405.7" x2="139.2" y2="421.5" stroke="#0000aa" stroke-width="1.1"/>
<polygon points="139.2,421.5 134.2,417.1 139.8,414.8" fill="#0000aa"/>
<line x1="139.6" y1="405.7" x2="146.0" y2="421.5" stroke="#0000aa" stroke-width="1.1"/>
<polygon points="146.0,421.5 141.0,417.1 146.5,414.8" fill="#0000aa"/>
<line x1="146.4" y1="405.7" x2="152.8" y2="421.5" stroke="#0000aa" stroke-width="1.1"/>
<polygon points="152.8,421.5 147.7,417.1 153.3,414.8" fill="#0000aa"/>
<line x1="153.1" y1="405.7" x2="159.5" y2="421.5" stroke="#0000aa" stroke-width="1.1"/>
<polygon points="159.5,421.5 154.5,417.1 160.0,414.8" fill="#0000aa"/>
<line x1="159.9" y1="405.7" x2="166.2" y2="421.5" stroke="#0000aa" stroke-width="1.1"/>
<polygon points="166.2,421.5 161.2,417.1 166.8,414.8" fill="#0000aa"/>
<line x1="166.6" y1="405.7" x2="173.0" y2="421.5" stroke="#0000aa" stroke-width="1.1"/>
<polygon points="173.0,421.5 168.0,417.1 173.5,414.8" fill="#0000aa"/>
<line x1="173.4" y1="405.7" x2="179.8" y2="421.5" stroke="#0000aa" stroke-width="1.1"/>
<polygon points="179.8,421.5 174.7,417.1 180.3,414.8" fill="#0000aa"/>
<line x1="180.1" y1="405.7" x2="186.5" y2="421.5" stroke="#0000aa" stroke-width="1.1"/>
<polygon points="186.5,421.5 181.5,417.1 187.0,414.8" fill="#0000aa"/>
<line x1="186.9" y1="405.7" x2="193.2" y2="421.5" stroke="#0000aa" stroke-width="1.1"/>
<polygon points="193.2,421.5 188.2,417.1 193.8,414.8" fill="#0000aa"/>
<line x1="193.6" y1="405.7" x2="200.0" y2="421.5" stroke="#0000aa" stroke-width="1.1"/>
<polygon points="200.0,421.5 195.0,417.1 200.5,414.8" fill="#0000aa"/>
<line x1="200.4" y1="405.7" x2="206.8" y2="421.5" stroke="#0000aa" stroke-width="1.1"/>
<polygon points="206.8,421.5 201.7,417.1 207.3,414.8" fill="#0000aa"/>
<line x1="207.1" y1="405.7" x2="213.5" y2="421.5" stroke="#0000aa" stroke-width="1.1"/>
<polygon points="213.5,421.5 208.5,417.1 214.0,414.8" fill="#0000aa"/>
<line x1="213.9" y1="405.7" x2="220.2" y2="421.5" stroke="#0000aa" stroke-width="1.1"/>
<polygon points="220.2,421.5 215.2,417.1 220.8,414.8" fill="#0000aa"/>
<line x1="220.6" y1="405.7" x2="227.0" y2="421.5" stroke="#0000aa" stroke-width="1.1"/>
<polygon points="227.0,421.5 222.0,417.1 227.5,414.8" fill="#0000aa"/>
<line x1="227.4" y1="405.7" x2="233.8" y2="421.5" stroke="#0000aa" stroke-width="1.1"/>
<polygon points="233.8,421.5 228.7,417.1 234.3,414.8" fill="#0000aa"/>
<line x1="234.1" y1="405.7" x2="240.5" y2="421.5" stroke="#0000aa" stroke-width="1.1"/>
<polygon points="240.5,421.5 235.5,417.1 241.0,414.8" fill="#0000aa"/>
<line x1="240.9" y1="405.7" x2="247.2" y2="421.5" stroke="#0000aa" stroke-width="1.1"/>
<polygon points="247.2,421.5 242.2,417.1 247.8,414.8" fill="#0000aa"/>
</g>
<rect x="135.5" y="398.5" width="110" height="32" fill="none" stroke="#000" stroke-width="1"/>
<clipPath id="lcB"><rect x="136" y="437" width="109" height="77"/></clipPath>
<g clip-path="url(#lcB)">
<rect x="136" y="437" width="110" height="78" fill="#87d1fa" />
<rect x="170" y="437" width="63" height="78" fill="#80c3ec" />
<line x1="136" y1="437.3" x2="245" y2="437.3" stroke="#000" stroke-width="1" stroke-dasharray="2 2"/>
<line x1="136" y1="456.5" x2="245" y2="456.5" stroke="#000" stroke-width="1" stroke-dasharray="2 2"/>
<line x1="136" y1="475.5" x2="245" y2="475.5" stroke="#000" stroke-width="1" stroke-dasharray="2 2"/>
<line x1="136" y1="495.5" x2="245" y2="495.5" stroke="#000" stroke-width="1" stroke-dasharray="2 2"/>
<line x1="143.5" y1="437" x2="143.5" y2="514" stroke="#000" stroke-width="1" stroke-dasharray="2 2"/>
<line x1="164.5" y1="437" x2="164.5" y2="514" stroke="#000" stroke-width="1" stroke-dasharray="2 2"/>
<line x1="184.5" y1="437" x2="184.5" y2="514" stroke="#000" stroke-width="1" stroke-dasharray="2 2"/>
<line x1="204.5" y1="437" x2="204.5" y2="514" stroke="#000" stroke-width="1" stroke-dasharray="2 2"/>
<line x1="225.5" y1="437" x2="225.5" y2="514" stroke="#000" stroke-width="1" stroke-dasharray="2 2"/>
<circle cx="137" cy="508" r="2.1" fill="#ffffff" shape-rendering="auto"/>
<circle cx="137" cy="505.1" r="2.1" fill="#c8c8c8" shape-rendering="auto"/>
<circle cx="143.8" cy="505.1" r="2.1" fill="#ffffff" shape-rendering="auto"/>
<circle cx="143.8" cy="500.2" r="2.1" fill="#8a8a8a" shape-rendering="auto"/>
<circle cx="143.8" cy="481.3" r="2.1" fill="#555555" shape-rendering="auto"/>
<circle cx="150.3" cy="499.3" r="2.1" fill="#ffffff" shape-rendering="auto"/>
<circle cx="150.3" cy="492.4" r="2.1" fill="#555555" shape-rendering="auto"/>
<circle cx="157.2" cy="494.5" r="2.1" fill="#c8c8c8" shape-rendering="auto"/>
<circle cx="157.2" cy="492.4" r="2.1" fill="#555555" shape-rendering="auto"/>
<circle cx="164.4" cy="499.3" r="2.1" fill="#ffffff" shape-rendering="auto"/>
<circle cx="164.4" cy="494.5" r="2.1" fill="#c8c8c8" shape-rendering="auto"/>
<circle cx="164.4" cy="492.4" r="2.1" fill="#555555" shape-rendering="auto"/>
<circle cx="170.6" cy="492.4" r="2.1" fill="#ffffff" shape-rendering="auto"/>
<circle cx="170.6" cy="489.5" r="2.1" fill="#c8c8c8" shape-rendering="auto"/>
<circle cx="177.7" cy="492.4" r="2.1" fill="#ffffff" shape-rendering="auto"/>
<circle cx="177.7" cy="488.5" r="2.1" fill="#8a8a8a" shape-rendering="auto"/>
<circle cx="184.5" cy="509" r="2.1" fill="#ffffff" shape-rendering="auto"/>
<circle cx="184.5" cy="504" r="2.1" fill="#8a8a8a" shape-rendering="auto"/>
<circle cx="184.5" cy="500.2" r="2.1" fill="#555555" shape-rendering="auto"/>
<circle cx="184.5" cy="488.5" r="2.1" fill="#000000" shape-rendering="auto"/>
<circle cx="191.3" cy="500.2" r="2.1" fill="#ffffff" shape-rendering="auto"/>
<circle cx="191.3" cy="488.5" r="2.1" fill="#8a8a8a" shape-rendering="auto"/>
<circle cx="198.5" cy="492.4" r="2.1" fill="#ffffff" shape-rendering="auto"/>
<circle cx="198.5" cy="485.6" r="2.1" fill="#c8c8c8" shape-rendering="auto"/>
<circle cx="198.5" cy="468" r="2.1" fill="#8a8a8a" shape-rendering="auto"/>
<circle cx="198.5" cy="464.1" r="2.1" fill="#000000" shape-rendering="auto"/>
<circle cx="204.4" cy="492.4" r="2.1" fill="#ffffff" shape-rendering="auto"/>
<circle cx="204.4" cy="468" r="2.1" fill="#000000" shape-rendering="auto"/>
<circle cx="211.2" cy="492.4" r="2.1" fill="#c8c8c8" shape-rendering="auto"/>
<circle cx="211.2" cy="485.6" r="2.1" fill="#8a8a8a" shape-rendering="auto"/>
<circle cx="211.2" cy="481.1" r="2.1" fill="#555555" shape-rendering="auto"/>
<circle cx="211.2" cy="470" r="2.1" fill="#000000" shape-rendering="auto"/>
<circle cx="218.4" cy="509" r="2.1" fill="#ffffff" shape-rendering="auto"/>
<circle cx="218.4" cy="500.2" r="2.1" fill="#c8c8c8" shape-rendering="auto"/>
<circle cx="218.4" cy="492.4" r="2.1" fill="#8a8a8a" shape-rendering="auto"/>
<circle cx="218.4" cy="488.5" r="2.1" fill="#555555" shape-rendering="auto"/>
<circle cx="218.4" cy="481.3" r="2.1" fill="#000000" shape-rendering="auto"/>
<circle cx="225.3" cy="509" r="2.1" fill="#ffffff" shape-rendering="auto"/>
<circle cx="225.3" cy="500.2" r="2.1" fill="#8a8a8a" shape-rendering="auto"/>
<circle cx="225.3" cy="492.4" r="2.1" fill="#555555" shape-rendering="auto"/>
<circle cx="225.3" cy="485.6" r="2.1" fill="#000000" shape-rendering="auto"/>
<circle cx="232.7" cy="509" r="2.1" fill="#ffffff" shape-rendering="auto"/>
<circle cx="232.7" cy="500.2" r="2.1" fill="#8a8a8a" shape-rendering="auto"/>
<circle cx="232.7" cy="494.4" r="2.1" fill="#555555" shape-rendering="auto"/>
<circle cx="232.7" cy="488.5" r="2.1" fill="#000000" shape-rendering="auto"/>
<circle cx="239.1" cy="509" r="2.1" fill="#ffffff" shape-rendering="auto"/>
<circle cx="239.1" cy="500.2" r="2.1" fill="#c8c8c8" shape-rendering="auto"/>
<circle cx="239.1" cy="494.4" r="2.1" fill="#8a8a8a" shape-rendering="auto"/>
<circle cx="239.1" cy="481.3" r="2.1" fill="#000000" shape-rendering="auto"/>
<circle cx="244.4" cy="481.3" r="2.1" fill="#8a8a8a" shape-rendering="auto"/>
<circle cx="244.4" cy="476.8" r="2.1" fill="#000000" shape-rendering="auto"/>
<circle cx="137" cy="475.5" r="2.2" fill="#b22222" shape-rendering="auto"/>
<circle cx="143.8" cy="475.5" r="2.2" fill="#b22222" shape-rendering="auto"/>
<circle cx="150.3" cy="458.7" r="2.2" fill="#b22222" shape-rendering="auto"/>
<circle cx="157.2" cy="458.7" r="2.2" fill="#b22222" shape-rendering="auto"/>
<circle cx="164.4" cy="459.7" r="2.2" fill="#b22222" shape-rendering="auto"/>
<circle cx="170.6" cy="451.1" r="2.2" fill="#b22222" shape-rendering="auto"/>
<circle cx="177.7" cy="449.1" r="2.2" fill="#b22222" shape-rendering="auto"/>
<circle cx="184.5" cy="449.1" r="2.2" fill="#b22222" shape-rendering="auto"/>
<circle cx="191.3" cy="449.1" r="2.2" fill="#b22222" shape-rendering="auto"/>
<circle cx="198.5" cy="451.1" r="2.2" fill="#b22222" shape-rendering="auto"/>
<circle cx="204.4" cy="449.1" r="2.2" fill="#b22222" shape-rendering="auto"/>
<circle cx="211.2" cy="449.1" r="2.2" fill="#b22222" shape-rendering="auto"/>
<circle cx="218.4" cy="449.1" r="2.2" fill="#b22222" shape-rendering="auto"/>
<circle cx="225.3" cy="449.1" r="2.2" fill="#b22222" shape-rendering="auto"/>
<circle cx="232.7" cy="449.1" r="2.2" fill="#b22222" shape-rendering="auto"/>
<circle cx="239.1" cy="449.1" r="2.2" fill="#b22222" shape-rendering="auto"/>
<circle cx="245" cy="449.1" r="2.2" fill="#b22222" shape-rendering="auto"/>
<polyline points="135.5,471.0 143.0,471.0 150.7,466.1 164.4,464.1 178.0,464.1 185.9,467.1 197.6,471.0 205.4,472.0 217.1,474.9 224.9,474.9 236.6,471.5 245.4,470.0" fill="none" stroke="#ff9900" stroke-width="2.2" stroke-linejoin="round" shape-rendering="auto"/>
</g>
<circle cx="191.5" cy="456.3" r="2.3" fill="#000" shape-rendering="auto"/>
<rect x="135.5" y="436.5" width="110" height="78" fill="none" stroke="#000" stroke-width="1"/>
<text x="128.5" y="440.8" font-size="10.6" fill="#000" stroke="#000" stroke-width="0.22" text-anchor="end" >15.0</text>
<text x="128.5" y="460.3" font-size="10.6" fill="#000" stroke="#000" stroke-width="0.22" text-anchor="end" >7.0</text>
<text x="128.5" y="479.5" font-size="10.6" fill="#000" stroke="#000" stroke-width="0.22" text-anchor="end" >2.0</text>
<text x="128.5" y="499" font-size="10.6" fill="#000" stroke="#000" stroke-width="0.22" text-anchor="end" >0.5</text>
<text x="128.5" y="517.9" font-size="10.6" fill="#000" stroke="#000" stroke-width="0.22" text-anchor="end" >0.0</text>
<text x="254" y="440.8" font-size="10.6" fill="#ff8c00" stroke="#ff8c00" stroke-width="0.22" text-anchor="start" >100</text>
<text x="254" y="460.3" font-size="10.6" fill="#ff8c00" stroke="#ff8c00" stroke-width="0.22" text-anchor="start" >20</text>
<text x="254" y="479.5" font-size="10.6" fill="#ff8c00" stroke="#ff8c00" stroke-width="0.22" text-anchor="start" >5</text>
<text x="254" y="499" font-size="10.6" fill="#ff8c00" stroke="#ff8c00" stroke-width="0.22" text-anchor="start" >1</text>
<text x="254" y="517.9" font-size="10.6" fill="#ff8c00" stroke="#ff8c00" stroke-width="0.22" text-anchor="start" >0</text>
<clipPath id="lcC"><rect x="136" y="524" width="109" height="76"/></clipPath>
<g clip-path="url(#lcC)">
<rect x="136" y="524" width="110" height="77" fill="#87d1fa" />
<rect x="170" y="524" width="63" height="77" fill="#80c3ec" />
<polygon points="135.5,601.0 135.5,601.0 165.0,601.0 166.6,588.7 169.0,580.0 172.9,569.0 178.5,564.9 184.1,564.2 187.6,555.0 191.1,548.0 195.3,544.5 203.7,543.8 207.9,535.4 212.1,528.4 216.3,525.3 224.8,524.9 231.8,524.9 236.0,530.5 244.4,543.1 245.5,545.0 245.5,601.0" fill="#ffffff" shape-rendering="auto"/>
<polygon points="135.5,601.0 135.5,601.0 184.0,601.0 190.0,585.0 193.9,571.9 196.7,531.2 200.0,532.0 205.1,533.3 209.0,533.0 213.5,526.3 222.0,524.9 233.0,524.2 245.5,524.2 245.5,601.0" fill="#9a9a9a" shape-rendering="auto"/>
<polygon points="135.5,601.0 135.5,575.4 143.4,564.2 149.0,576.1 157.4,584.5 165.2,588.7 177.1,593.0 184.1,569.1 192.5,569.8 195.0,575.0 204.4,596.4 212.0,570.0 219.2,548.0 226.2,534.7 233.2,538.2 240.2,555.1 245.5,566.3 245.5,601.0" fill="#5a5a5a" shape-rendering="auto"/>
<polygon points="135.5,601.0 135.5,594.3 149.0,590.8 163.0,600.0 165.0,601.0" fill="#383838" shape-rendering="auto"/>
<polyline points="184.0,601.0 190.0,585.0 193.9,571.9 196.7,531.2" fill="none" stroke="#a8a8a8" stroke-width="1" stroke-linejoin="round" shape-rendering="auto"/>
<polyline points="166.6,588.7 169.0,580.0 172.9,569.0 178.5,564.9 184.1,564.2 187.6,555.0 191.1,548.0 195.3,544.5 203.7,543.8 207.9,535.4 212.1,528.4 216.3,525.3 224.8,524.9 231.8,524.9 236.0,530.5 244.4,543.1 245.5,545.0" fill="none" stroke="#ffffff" stroke-width="1.1" stroke-linejoin="round" shape-rendering="auto"/>
<rect x="217" y="590" width="3" height="10" fill="#ffba00" />
<rect x="224" y="590" width="3" height="10" fill="#ffba00" />
<rect x="231" y="590" width="3" height="10" fill="#ffba00" />
<rect x="238" y="590" width="3" height="10" fill="#ffba00" />
<line x1="136" y1="525.1" x2="245" y2="525.1" stroke="#000" stroke-width="1" stroke-dasharray="2 2"/>
<line x1="136" y1="544.1" x2="245" y2="544.1" stroke="#000" stroke-width="1" stroke-dasharray="2 2"/>
<line x1="136" y1="562.8" x2="245" y2="562.8" stroke="#000" stroke-width="1" stroke-dasharray="2 2"/>
<line x1="136" y1="582.7" x2="245" y2="582.7" stroke="#000" stroke-width="1" stroke-dasharray="2 2"/>
<line x1="143.5" y1="524" x2="143.5" y2="600" stroke="#000" stroke-width="1" stroke-dasharray="2 2"/>
<line x1="164.5" y1="524" x2="164.5" y2="600" stroke="#000" stroke-width="1" stroke-dasharray="2 2"/>
<line x1="184.5" y1="524" x2="184.5" y2="600" stroke="#000" stroke-width="1" stroke-dasharray="2 2"/>
<line x1="204.5" y1="524" x2="204.5" y2="600" stroke="#000" stroke-width="1" stroke-dasharray="2 2"/>
<line x1="225.5" y1="524" x2="225.5" y2="600" stroke="#000" stroke-width="1" stroke-dasharray="2 2"/>
</g>
<rect x="135.5" y="523.5" width="110" height="77" fill="none" stroke="#000" stroke-width="1"/>
<text x="128.5" y="528.6" font-size="10.6" fill="#000" stroke="#000" stroke-width="0.22" text-anchor="end" >8</text>
<text x="128.5" y="547.6" font-size="10.6" fill="#000" stroke="#000" stroke-width="0.22" text-anchor="end" >6</text>
<text x="128.5" y="566.3" font-size="10.6" fill="#000" stroke="#000" stroke-width="0.22" text-anchor="end" >4</text>
<text x="128.5" y="586.2" font-size="10.6" fill="#000" stroke="#000" stroke-width="0.22" text-anchor="end" >2</text>
<text x="128.5" y="604.7" font-size="10.6" fill="#000" stroke="#000" stroke-width="0.22" text-anchor="end" >0</text>
<text x="251" y="528.6" font-size="10.6" fill="#ff8c00" stroke="#ff8c00" stroke-width="0.22" text-anchor="start" >1</text>
<text x="251" y="547.6" font-size="10.6" fill="#ff8c00" stroke="#ff8c00" stroke-width="0.22" text-anchor="start" >0.75</text>
<text x="251" y="566.3" font-size="10.6" fill="#ff8c00" stroke="#ff8c00" stroke-width="0.22" text-anchor="start" >0.5</text>
<text x="251" y="586.2" font-size="10.6" fill="#ff8c00" stroke="#ff8c00" stroke-width="0.22" text-anchor="start" >0.25</text>
<text x="251" y="604.7" font-size="10.6" fill="#ff8c00" stroke="#ff8c00" stroke-width="0.22" text-anchor="start" >0</text>
<text x="6" y="17.8" font-size="10.9" fill="#000" stroke="#000" stroke-width="0.22" text-anchor="start" textLength="59.2" lengthAdjust="spacingAndGlyphs">Czas lokalny</text>
<text x="6" y="29.9" font-size="10.9" fill="#000" stroke="#000" stroke-width="0.22" text-anchor="start" textLength="59.5" lengthAdjust="spacingAndGlyphs">(CET/CEST)</text>
<polyline points="67.0,16.5 133.0,16.5 155.6,45.0" fill="none" stroke="#000" stroke-width="1" stroke-linejoin="round" />
<text x="6" y="45.8" font-size="10.9" fill="#b22222" stroke="#b22222" stroke-width="0.22" text-anchor="start" textLength="93.5" lengthAdjust="spacingAndGlyphs">Temperatura gruntu</text>
<text x="28" y="55.5" font-size="10.9" fill="#b22222" stroke="#b22222" stroke-width="0.22" text-anchor="start" textLength="38.5" lengthAdjust="spacingAndGlyphs">max/min</text>
<polyline points="102.0,44.5 120.0,44.5 149.0,84.0" fill="none" stroke="#b22222" stroke-width="1" stroke-linejoin="round" />
<text x="5.1" y="67.7" font-size="10.9" fill="#000" stroke="#000" stroke-width="0.22" text-anchor="start" textLength="62.8" lengthAdjust="spacingAndGlyphs">Temperatura:</text>
<text x="12.6" y="79.6" font-size="10.9" fill="#ff0000" stroke="#ff0000" stroke-width="0.22" text-anchor="start" textLength="77.5" lengthAdjust="spacingAndGlyphs">punkt środkowy</text>
<line x1="92" y1="76.5" x2="114" y2="76.5" stroke="#ff0000" stroke-width="1" />
<polyline points="130.0,76.5 132.0,76.5 161.0,103.5" fill="none" stroke="#ff0000" stroke-width="1" stroke-linejoin="round" />
<text x="28" y="89.4" font-size="10.9" fill="#ffc4bc" stroke="#ffc4bc" stroke-width="0.22" text-anchor="start" textLength="38.5" lengthAdjust="spacingAndGlyphs">max/min</text>
<text x="10" y="101" font-size="10.9" fill="#0000ff" stroke="#0000ff" stroke-width="0.22" text-anchor="start" textLength="57.5" lengthAdjust="spacingAndGlyphs">odczuwana</text>
<polyline points="70.0,99.5 132.0,99.5 137.0,103.0" fill="none" stroke="#0000ff" stroke-width="1" stroke-linejoin="round" />
<text x="28" y="111.2" font-size="10.9" fill="#a8dcfa" stroke="#a8dcfa" stroke-width="0.22" text-anchor="start" textLength="38.5" lengthAdjust="spacingAndGlyphs">max/min</text>
<text x="6.3" y="122.8" font-size="10.9" fill="#6a5acd" stroke="#6a5acd" stroke-width="0.22" text-anchor="start" textLength="87.2" lengthAdjust="spacingAndGlyphs">Temp. punktu rosy</text>
<polyline points="95.0,120.5 132.0,120.5 142.0,113.0" fill="none" stroke="#6a5acd" stroke-width="1" stroke-linejoin="round" />
<text x="6" y="141.2" font-size="10.9" fill="#ff0000" stroke="#ff0000" stroke-width="0.22" text-anchor="start" textLength="94.5" lengthAdjust="spacingAndGlyphs">Opad powyżej skali</text>
<polyline points="103.0,137.5 143.0,137.5 146.5,146.0" fill="none" stroke="#ff0000" stroke-width="1" stroke-linejoin="round" />
<text x="6" y="154.9" font-size="10.9" fill="#e8501e" stroke="#e8501e" stroke-width="0.22" text-anchor="start" textLength="97.5" lengthAdjust="spacingAndGlyphs">Wilgotność względna</text>
<line x1="106" y1="151.5" x2="112" y2="151.5" stroke="#e8501e" stroke-width="1" />
<polyline points="130.0,151.5 138.0,165.0" fill="none" stroke="#e8501e" stroke-width="1" stroke-linejoin="round" />
<text x="6" y="168.5" font-size="10.9" fill="#000" stroke="#000" stroke-width="0.22" text-anchor="start" textLength="84.5" lengthAdjust="spacingAndGlyphs">Wystąpienie burzy</text>
<line x1="94" y1="166.5" x2="112" y2="166.5" stroke="#000" stroke-width="1" />
<polyline points="130.0,166.0 137.0,171.0" fill="none" stroke="#000" stroke-width="1" stroke-linejoin="round" />
<text x="6" y="182.2" font-size="10.9" fill="#00b000" stroke="#00b000" stroke-width="0.22" text-anchor="start" textLength="63.5" lengthAdjust="spacingAndGlyphs">Deszcz: max</text>
<line x1="71" y1="179.5" x2="140" y2="179.5" stroke="#00b000" stroke-width="1" />
<text x="49" y="193" font-size="10.9" fill="#00b000" stroke="#00b000" stroke-width="0.22" text-anchor="start" textLength="29.5" lengthAdjust="spacingAndGlyphs">średni</text>
<line x1="80" y1="190.5" x2="140" y2="190.5" stroke="#00b000" stroke-width="1" />
<text x="6" y="204.6" font-size="10.9" fill="#1e3cd0" stroke="#1e3cd0" stroke-width="0.22" text-anchor="start" textLength="29.5" lengthAdjust="spacingAndGlyphs">Śnieg:</text>
<text x="49" y="204.6" font-size="10.9" fill="#1e3cd0" stroke="#1e3cd0" stroke-width="0.22" text-anchor="start" textLength="19.5" lengthAdjust="spacingAndGlyphs">max</text>
<line x1="70" y1="202.5" x2="112" y2="202.5" stroke="#1e3cd0" stroke-width="1" />
<polyline points="130.0,202.5 160.5,171.6" fill="none" stroke="#1e3cd0" stroke-width="1" stroke-linejoin="round" />
<text x="49" y="215.4" font-size="10.9" fill="#1e3cd0" stroke="#1e3cd0" stroke-width="0.22" text-anchor="start" textLength="29.5" lengthAdjust="spacingAndGlyphs">średni</text>
<polyline points="81.0,213.5 132.0,213.5 160.0,188.0" fill="none" stroke="#1e3cd0" stroke-width="1" stroke-linejoin="round" />
<text x="6" y="227.3" font-size="10.9" fill="#ff0000" stroke="#ff0000" stroke-width="0.22" text-anchor="start" textLength="88.5" lengthAdjust="spacingAndGlyphs">Wystąpienie opadu</text>
<polyline points="97.0,225.5 143.5,225.5 147.5,219.5" fill="none" stroke="#ff0000" stroke-width="1" stroke-linejoin="round" />
<text x="6" y="239.6" font-size="10.9" fill="#ff0000" stroke="#ff0000" stroke-width="0.22" text-anchor="start" textLength="71.5" lengthAdjust="spacingAndGlyphs">konwekcyjnego</text>
<text x="4.8" y="266.9" font-size="10.9" fill="#000" stroke="#000" stroke-width="0.22" text-anchor="start" textLength="42.9" lengthAdjust="spacingAndGlyphs">Ciśnienie</text>
<polyline points="52.0,264.5 130.0,264.5 136.0,261.5" fill="none" stroke="#000" stroke-width="1" stroke-linejoin="round" />
<text x="4.8" y="280" font-size="10.9" fill="#000" stroke="#000" stroke-width="0.22" text-anchor="start" textLength="67" lengthAdjust="spacingAndGlyphs">zredukowane</text>
<text x="4.8" y="293" font-size="10.9" fill="#000" stroke="#000" stroke-width="0.22" text-anchor="start" textLength="87.6" lengthAdjust="spacingAndGlyphs">do poziomu morza</text>
<text x="4.8" y="321.5" textLength="66.8" lengthAdjust="spacingAndGlyphs" font-size="10.9" fill="#000">Wiatr na <tspan font-family="Liberation Serif, serif" font-size="11">10m</tspan>:</text>
<text x="9.8" y="337.4" font-size="10.9" fill="#ff0000" stroke="#ff0000" stroke-width="0.22" text-anchor="start" textLength="100.8" lengthAdjust="spacingAndGlyphs">poryw powyżej skali</text>
<polyline points="111.0,334.5 117.0,334.5" fill="none" stroke="#ff0000" stroke-width="1" stroke-linejoin="round" />
<polyline points="130.0,332.0 138.6,317.3" fill="none" stroke="#ff0000" stroke-width="1" stroke-linejoin="round" />
<text x="9.8" y="351.3" font-size="10.9" fill="#ff0000" stroke="#ff0000" stroke-width="0.22" text-anchor="start" textLength="94.5" lengthAdjust="spacingAndGlyphs">max porywy wiatru</text>
<polyline points="107.8,348.5 131.0,348.5 143.0,340.0" fill="none" stroke="#ff0000" stroke-width="1" stroke-linejoin="round" />
<text x="9.8" y="371.4" font-size="10.9" fill="#1414a0" stroke="#1414a0" stroke-width="0.22" text-anchor="start" textLength="78.7" lengthAdjust="spacingAndGlyphs">prędkość wiatru</text>
<line x1="92.7" y1="367.5" x2="140" y2="367.5" stroke="#1414a0" stroke-width="1" />
<text x="9.8" y="384.1" font-size="10.9" fill="#1414a0" stroke="#1414a0" stroke-width="0.22" text-anchor="start" textLength="88.9" lengthAdjust="spacingAndGlyphs">w środku obszaru</text>
<text x="10" y="412.8" font-size="10.9" fill="#1414a0" stroke="#1414a0" stroke-width="0.22" text-anchor="start" textLength="73.5" lengthAdjust="spacingAndGlyphs">kierunek wiatru</text>
<line x1="86" y1="410.5" x2="141" y2="410.5" stroke="#1414a0" stroke-width="1" />
<text x="6" y="432.4" font-size="10.9" fill="#b22222" stroke="#b22222" stroke-width="0.22" text-anchor="start" textLength="91.5" lengthAdjust="spacingAndGlyphs">Wierzchołek chmur</text>
<polyline points="100.0,430.5 137.0,430.5 184.5,449.0" fill="none" stroke="#b22222" stroke-width="1" stroke-linejoin="round" />
<text x="6" y="447.5" font-size="10.9" fill="#000" stroke="#000" stroke-width="0.22" text-anchor="start" textLength="85.5" lengthAdjust="spacingAndGlyphs">Podstawa chmur*</text>
<text x="6" y="458" font-size="10.9" fill="#000" stroke="#000" stroke-width="0.22" text-anchor="start" textLength="47.5" lengthAdjust="spacingAndGlyphs">o pokryciu</text>
<text x="11" y="471.6" font-size="10.9" fill="#000" stroke="#000" stroke-width="0.22" text-anchor="start" textLength="43.5" lengthAdjust="spacingAndGlyphs">&gt; 7.9 okt.</text>
<polyline points="57.0,468.5 140.0,468.5 191.5,456.0" fill="none" stroke="#000" stroke-width="1" stroke-linejoin="round" />
<text x="11" y="482.2" font-size="10.9" fill="#505050" stroke="#505050" stroke-width="0.22" text-anchor="start" textLength="43.5" lengthAdjust="spacingAndGlyphs">&gt; 6.5 okt.</text>
<line x1="57" y1="480.5" x2="143.8" y2="480.5" stroke="#505050" stroke-width="1" />
<text x="11" y="492.4" font-size="10.9" fill="#a0a0a0" stroke="#a0a0a0" stroke-width="0.22" text-anchor="start" textLength="43.5" lengthAdjust="spacingAndGlyphs">&gt; 4.5 okt.</text>
<polyline points="54.0,490.5 132.0,490.5 143.8,500.0" fill="none" stroke="#a0a0a0" stroke-width="1" stroke-linejoin="round" />
<text x="11" y="502.7" font-size="10.9" fill="#d4d4d4" stroke="#d4d4d4" stroke-width="0.22" text-anchor="start" textLength="43.5" lengthAdjust="spacingAndGlyphs">&gt; 2.5 okt.</text>
<polyline points="54.0,500.5 132.0,500.5 137.0,505.0" fill="none" stroke="#d4d4d4" stroke-width="1" stroke-linejoin="round" />
<rect x="11" y="505" width="44.5" height="11.5" fill="#87cefa" />
<text x="11.5" y="514.3" font-size="10.9" fill="#ffffff" stroke="#ffffff" stroke-width="0.22" text-anchor="start" textLength="43.5" lengthAdjust="spacingAndGlyphs">&gt; 0.1 okt.</text>
<line x1="57" y1="509.5" x2="135" y2="509.5" stroke="#87cefa" stroke-width="1" />
<line x1="57" y1="511.5" x2="135" y2="511.5" stroke="#87cefa" stroke-width="1" />
<text x="6" y="528.3" font-size="10.9" fill="#ff8000" stroke="#ff8000" stroke-width="0.22" text-anchor="start" textLength="57.5" lengthAdjust="spacingAndGlyphs">Widzialność</text>
<polyline points="68.0,527.0 130.0,527.0 172.0,465.0" fill="none" stroke="#ff9900" stroke-width="1" stroke-linejoin="round" />
<text x="6" y="546.6" font-size="10.9" fill="#000" stroke="#000" stroke-width="0.22" text-anchor="start" textLength="38.5" lengthAdjust="spacingAndGlyphs">Chmury:</text>
<rect x="10" y="551" width="41.5" height="11.5" fill="#87cefa" />
<text x="11" y="559.6" font-size="10.9" fill="#ffffff" stroke="#ffffff" stroke-width="0.22" text-anchor="start" textLength="40.5" lengthAdjust="spacingAndGlyphs">wysokie</text>
<line x1="54" y1="556.5" x2="136" y2="556.5" stroke="#87cefa" stroke-width="1" />
<line x1="54" y1="558.5" x2="136" y2="558.5" stroke="#87cefa" stroke-width="1" />
<line x1="136" y1="557.5" x2="185.5" y2="557.5" stroke="#ffffff" stroke-width="1.6" />
<text x="10" y="572.7" font-size="10.9" fill="#a8a8a8" stroke="#a8a8a8" stroke-width="0.22" text-anchor="start" textLength="35.5" lengthAdjust="spacingAndGlyphs">średnie</text>
<line x1="49" y1="571.5" x2="192.5" y2="571.5" stroke="#a8a8a8" stroke-width="1" />
<text x="10" y="584.3" font-size="10.9" fill="#404040" stroke="#404040" stroke-width="0.22" text-anchor="start" textLength="26.5" lengthAdjust="spacingAndGlyphs">niskie</text>
<line x1="40" y1="582.5" x2="122" y2="582.5" stroke="#404040" stroke-width="1" />
<line x1="130" y1="582.5" x2="136" y2="582.5" stroke="#404040" stroke-width="1" />
<text x="10" y="596.2" font-size="10.9" fill="#202020" stroke="#202020" stroke-width="0.22" text-anchor="start" textLength="61.5" lengthAdjust="spacingAndGlyphs">bardzo niskie</text>
<line x1="74" y1="594.5" x2="140" y2="594.5" stroke="#202020" stroke-width="1" />
<text x="6" y="608.7" font-size="10.9" fill="#ffb000" stroke="#ffb000" stroke-width="0.22" text-anchor="start" textLength="20.5" lengthAdjust="spacingAndGlyphs">Mgła</text>
<polyline points="30.0,605.0 217.5,605.0 219.0,600.0" fill="none" stroke="#ffb000" stroke-width="1" stroke-linejoin="round" />
<text x="6" y="625.7" font-size="10.9" fill="#000" stroke="#000" stroke-width="0.22" text-anchor="start" textLength="131.5" lengthAdjust="spacingAndGlyphs">Czas uniwersalny (UTC)</text>
<polyline points="137.0,623.5 148.5,623.5 157.0,611.0" fill="none" stroke="#000" stroke-width="1" stroke-linejoin="round" />
<text x="5" y="650.5" font-size="8.5" fill="#000" stroke="#000" stroke-width="0.22" text-anchor="start" font-weight="bold">*</text>
<text x="11" y="650.5" font-size="8.3" fill="#000" stroke="#000" stroke-width="0.22" text-anchor="start" font-weight="bold">powyżej poziomu morza</text>
<rect x="5" y="0" width="1" height="1" fill="#000" />
</svg>
</body></html>
